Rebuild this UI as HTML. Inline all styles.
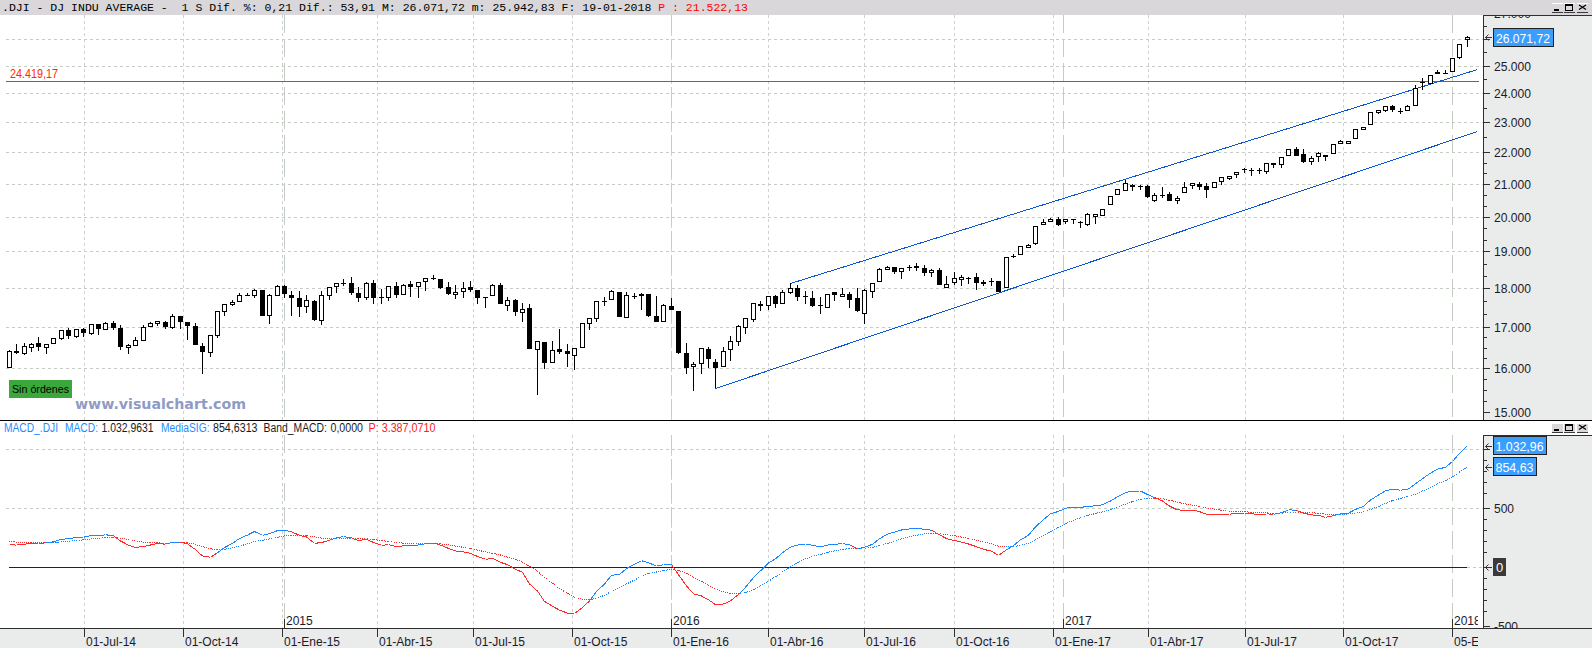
<!DOCTYPE html><html><head><meta charset="utf-8"><title>DJI</title><style>html,body{margin:0;padding:0;background:#fff;overflow:hidden}svg{display:block}text{font-family:"Liberation Sans",Arial,sans-serif;white-space:pre}</style></head><body>
<svg width="1592" height="648" viewBox="0 0 1592 648">
<rect x="0" y="0" width="1592" height="648" fill="#fff"/>
<g shape-rendering="crispEdges">
<rect x="0" y="0" width="1592" height="15" fill="#d9d7d9"/>
<rect x="1483" y="15" width="109" height="405" fill="#eaebeb"/>
<rect x="1483" y="435" width="109" height="193" fill="#eaebeb"/>
<rect x="0" y="628" width="1592" height="20" fill="#eaebeb"/>
</g>
<g shape-rendering="crispEdges" stroke="#c4ccc4" stroke-width="1" fill="none">
<line x1="6" y1="39.5" x2="1483" y2="39.5" stroke-dasharray="3 3"/>
<line x1="6" y1="66.5" x2="1483" y2="66.5" stroke-dasharray="3 3"/>
<line x1="6" y1="93.5" x2="1483" y2="93.5" stroke-dasharray="3 3"/>
<line x1="6" y1="122.5" x2="1483" y2="122.5" stroke-dasharray="3 3"/>
<line x1="6" y1="152.5" x2="1483" y2="152.5" stroke-dasharray="3 3"/>
<line x1="6" y1="184.5" x2="1483" y2="184.5" stroke-dasharray="3 3"/>
<line x1="6" y1="217.5" x2="1483" y2="217.5" stroke-dasharray="3 3"/>
<line x1="6" y1="251.5" x2="1483" y2="251.5" stroke-dasharray="3 3"/>
<line x1="6" y1="288.5" x2="1483" y2="288.5" stroke-dasharray="3 3"/>
<line x1="6" y1="327.5" x2="1483" y2="327.5" stroke-dasharray="3 3"/>
<line x1="6" y1="368.5" x2="1483" y2="368.5" stroke-dasharray="3 3"/>
<line x1="6" y1="449.5" x2="1483" y2="449.5" stroke-dasharray="3 3"/>
<line x1="6" y1="508.5" x2="1483" y2="508.5" stroke-dasharray="3 3"/>
<line x1="1467" y1="567.5" x2="1483" y2="567.5" stroke-dasharray="3 3"/>
<line x1="84.5" y1="15" x2="84.5" y2="420" stroke-dasharray="3 3" stroke="#cdd1d1"/>
<line x1="84.5" y1="435" x2="84.5" y2="628" stroke-dasharray="3 3" stroke="#cdd1d1"/>
<line x1="183.5" y1="15" x2="183.5" y2="420" stroke-dasharray="3 3" stroke="#cdd1d1"/>
<line x1="183.5" y1="435" x2="183.5" y2="628" stroke-dasharray="3 3" stroke="#cdd1d1"/>
<line x1="282.5" y1="15" x2="282.5" y2="420" stroke-dasharray="3 3" stroke="#cdd1d1"/>
<line x1="282.5" y1="435" x2="282.5" y2="628" stroke-dasharray="3 3" stroke="#cdd1d1"/>
<line x1="377.5" y1="15" x2="377.5" y2="420" stroke-dasharray="3 3" stroke="#cdd1d1"/>
<line x1="377.5" y1="435" x2="377.5" y2="628" stroke-dasharray="3 3" stroke="#cdd1d1"/>
<line x1="473.5" y1="15" x2="473.5" y2="420" stroke-dasharray="3 3" stroke="#cdd1d1"/>
<line x1="473.5" y1="435" x2="473.5" y2="628" stroke-dasharray="3 3" stroke="#cdd1d1"/>
<line x1="572.5" y1="15" x2="572.5" y2="420" stroke-dasharray="3 3" stroke="#cdd1d1"/>
<line x1="572.5" y1="435" x2="572.5" y2="628" stroke-dasharray="3 3" stroke="#cdd1d1"/>
<line x1="671.5" y1="15" x2="671.5" y2="420" stroke-dasharray="3 3" stroke="#cdd1d1"/>
<line x1="671.5" y1="435" x2="671.5" y2="628" stroke-dasharray="3 3" stroke="#cdd1d1"/>
<line x1="768.5" y1="15" x2="768.5" y2="420" stroke-dasharray="3 3" stroke="#cdd1d1"/>
<line x1="768.5" y1="435" x2="768.5" y2="628" stroke-dasharray="3 3" stroke="#cdd1d1"/>
<line x1="864.5" y1="15" x2="864.5" y2="420" stroke-dasharray="3 3" stroke="#cdd1d1"/>
<line x1="864.5" y1="435" x2="864.5" y2="628" stroke-dasharray="3 3" stroke="#cdd1d1"/>
<line x1="954.5" y1="15" x2="954.5" y2="420" stroke-dasharray="3 3" stroke="#cdd1d1"/>
<line x1="954.5" y1="435" x2="954.5" y2="628" stroke-dasharray="3 3" stroke="#cdd1d1"/>
<line x1="1053.5" y1="15" x2="1053.5" y2="420" stroke-dasharray="3 3" stroke="#cdd1d1"/>
<line x1="1053.5" y1="435" x2="1053.5" y2="628" stroke-dasharray="3 3" stroke="#cdd1d1"/>
<line x1="1148.5" y1="15" x2="1148.5" y2="420" stroke-dasharray="3 3" stroke="#cdd1d1"/>
<line x1="1148.5" y1="435" x2="1148.5" y2="628" stroke-dasharray="3 3" stroke="#cdd1d1"/>
<line x1="1245.5" y1="15" x2="1245.5" y2="420" stroke-dasharray="3 3" stroke="#cdd1d1"/>
<line x1="1245.5" y1="435" x2="1245.5" y2="628" stroke-dasharray="3 3" stroke="#cdd1d1"/>
<line x1="1343.5" y1="15" x2="1343.5" y2="420" stroke-dasharray="3 3" stroke="#cdd1d1"/>
<line x1="1343.5" y1="435" x2="1343.5" y2="628" stroke-dasharray="3 3" stroke="#cdd1d1"/>
<line x1="284.5" y1="15" x2="284.5" y2="420" stroke-dasharray="18 6"/>
<line x1="284.5" y1="435" x2="284.5" y2="628" stroke-dasharray="18 6"/>
<line x1="671.5" y1="15" x2="671.5" y2="420" stroke-dasharray="18 6"/>
<line x1="671.5" y1="435" x2="671.5" y2="628" stroke-dasharray="18 6"/>
<line x1="1063.5" y1="15" x2="1063.5" y2="420" stroke-dasharray="18 6"/>
<line x1="1063.5" y1="435" x2="1063.5" y2="628" stroke-dasharray="18 6"/>
<line x1="1452.5" y1="15" x2="1452.5" y2="420" stroke-dasharray="18 6"/>
<line x1="1452.5" y1="435" x2="1452.5" y2="628" stroke-dasharray="18 6"/>
</g>
<g shape-rendering="crispEdges">
<rect x="6" y="81" width="1473" height="1" fill="#ff3000"/>
</g>
<text x="10" y="78" font-size="12" fill="#ff2a00" textLength="48" lengthAdjust="spacingAndGlyphs">24.419,17</text>
<g shape-rendering="crispEdges" stroke="#0a55d0" stroke-width="1" fill="none">
<line x1="790.5" y1="283.5" x2="1477.5" y2="69.5"/>
<line x1="715.5" y1="388.5" x2="1477.5" y2="131.5"/>
</g>
<g shape-rendering="crispEdges">
<rect x="9" y="350" width="1" height="18" fill="#000"/>
<rect x="7" y="351" width="5" height="17" fill="#000"/>
<rect x="8" y="352" width="3" height="15" fill="#fff"/>
<rect x="16" y="344" width="1" height="10" fill="#000"/>
<rect x="14" y="351" width="5" height="2" fill="#000"/>
<rect x="24" y="343" width="1" height="12" fill="#000"/>
<rect x="22" y="346" width="5" height="8" fill="#000"/>
<rect x="23" y="347" width="3" height="6" fill="#fff"/>
<rect x="31" y="343" width="1" height="9" fill="#000"/>
<rect x="29" y="344" width="5" height="4" fill="#000"/>
<rect x="30" y="345" width="3" height="2" fill="#fff"/>
<rect x="38" y="337" width="1" height="14" fill="#000"/>
<rect x="36" y="343" width="5" height="4" fill="#000"/>
<rect x="46" y="344" width="1" height="10" fill="#000"/>
<rect x="44" y="344" width="5" height="4" fill="#000"/>
<rect x="45" y="345" width="3" height="2" fill="#fff"/>
<rect x="53" y="338" width="1" height="6" fill="#000"/>
<rect x="51" y="338" width="5" height="6" fill="#000"/>
<rect x="52" y="339" width="3" height="4" fill="#fff"/>
<rect x="61" y="330" width="1" height="10" fill="#000"/>
<rect x="59" y="330" width="5" height="9" fill="#000"/>
<rect x="60" y="331" width="3" height="7" fill="#fff"/>
<rect x="68" y="328" width="1" height="11" fill="#000"/>
<rect x="66" y="330" width="5" height="6" fill="#000"/>
<rect x="76" y="329" width="1" height="9" fill="#000"/>
<rect x="74" y="329" width="5" height="8" fill="#000"/>
<rect x="75" y="330" width="3" height="6" fill="#fff"/>
<rect x="83" y="328" width="1" height="9" fill="#000"/>
<rect x="81" y="329" width="5" height="4" fill="#000"/>
<rect x="91" y="324" width="1" height="11" fill="#000"/>
<rect x="89" y="324" width="5" height="10" fill="#000"/>
<rect x="90" y="325" width="3" height="8" fill="#fff"/>
<rect x="98" y="324" width="1" height="11" fill="#000"/>
<rect x="96" y="324" width="5" height="5" fill="#000"/>
<rect x="105" y="322" width="1" height="8" fill="#000"/>
<rect x="103" y="323" width="5" height="7" fill="#000"/>
<rect x="104" y="324" width="3" height="5" fill="#fff"/>
<rect x="113" y="321" width="1" height="9" fill="#000"/>
<rect x="111" y="323" width="5" height="5" fill="#000"/>
<rect x="120" y="325" width="1" height="25" fill="#000"/>
<rect x="118" y="328" width="5" height="19" fill="#000"/>
<rect x="128" y="344" width="1" height="10" fill="#000"/>
<rect x="128" y="344" width="1" height="10" fill="#000"/>
<rect x="126" y="345" width="5" height="3" fill="#000"/>
<rect x="127" y="346" width="3" height="1" fill="#fff"/>
<rect x="135" y="337" width="1" height="9" fill="#000"/>
<rect x="133" y="340" width="5" height="6" fill="#000"/>
<rect x="134" y="341" width="3" height="4" fill="#fff"/>
<rect x="143" y="325" width="1" height="16" fill="#000"/>
<rect x="141" y="327" width="5" height="14" fill="#000"/>
<rect x="142" y="328" width="3" height="12" fill="#fff"/>
<rect x="150" y="322" width="1" height="5" fill="#000"/>
<rect x="148" y="323" width="5" height="4" fill="#000"/>
<rect x="149" y="324" width="3" height="2" fill="#fff"/>
<rect x="157" y="321" width="1" height="5" fill="#000"/>
<rect x="155" y="321" width="5" height="3" fill="#000"/>
<rect x="156" y="322" width="3" height="1" fill="#fff"/>
<rect x="165" y="321" width="1" height="8" fill="#000"/>
<rect x="163" y="322" width="5" height="5" fill="#000"/>
<rect x="172" y="314" width="1" height="15" fill="#000"/>
<rect x="170" y="316" width="5" height="12" fill="#000"/>
<rect x="171" y="317" width="3" height="10" fill="#fff"/>
<rect x="180" y="316" width="1" height="13" fill="#000"/>
<rect x="178" y="316" width="5" height="6" fill="#000"/>
<rect x="187" y="322" width="1" height="18" fill="#000"/>
<rect x="185" y="322" width="5" height="4" fill="#000"/>
<rect x="195" y="323" width="1" height="22" fill="#000"/>
<rect x="193" y="326" width="5" height="19" fill="#000"/>
<rect x="202" y="343" width="1" height="31" fill="#000"/>
<rect x="200" y="346" width="5" height="6" fill="#000"/>
<rect x="210" y="335" width="1" height="22" fill="#000"/>
<rect x="208" y="335" width="5" height="18" fill="#000"/>
<rect x="209" y="336" width="3" height="16" fill="#fff"/>
<rect x="217" y="311" width="1" height="27" fill="#000"/>
<rect x="215" y="311" width="5" height="25" fill="#000"/>
<rect x="216" y="312" width="3" height="23" fill="#fff"/>
<rect x="224" y="304" width="1" height="12" fill="#000"/>
<rect x="222" y="304" width="5" height="8" fill="#000"/>
<rect x="223" y="305" width="3" height="6" fill="#fff"/>
<rect x="232" y="300" width="1" height="6" fill="#000"/>
<rect x="232" y="300" width="1" height="6" fill="#000"/>
<rect x="230" y="302" width="5" height="3" fill="#000"/>
<rect x="231" y="303" width="3" height="1" fill="#fff"/>
<rect x="239" y="293" width="1" height="9" fill="#000"/>
<rect x="237" y="295" width="5" height="7" fill="#000"/>
<rect x="238" y="296" width="3" height="5" fill="#fff"/>
<rect x="247" y="293" width="1" height="3" fill="#000"/>
<rect x="245" y="295" width="5" height="1" fill="#000"/>
<rect x="254" y="289" width="1" height="9" fill="#000"/>
<rect x="252" y="290" width="5" height="6" fill="#000"/>
<rect x="253" y="291" width="3" height="4" fill="#fff"/>
<rect x="262" y="290" width="1" height="26" fill="#000"/>
<rect x="260" y="290" width="5" height="26" fill="#000"/>
<rect x="269" y="294" width="1" height="30" fill="#000"/>
<rect x="267" y="295" width="5" height="21" fill="#000"/>
<rect x="268" y="296" width="3" height="19" fill="#fff"/>
<rect x="277" y="285" width="1" height="11" fill="#000"/>
<rect x="275" y="286" width="5" height="10" fill="#000"/>
<rect x="276" y="287" width="3" height="8" fill="#fff"/>
<rect x="284" y="285" width="1" height="13" fill="#000"/>
<rect x="282" y="286" width="5" height="8" fill="#000"/>
<rect x="291" y="291" width="1" height="25" fill="#000"/>
<rect x="289" y="295" width="5" height="3" fill="#000"/>
<rect x="299" y="291" width="1" height="26" fill="#000"/>
<rect x="297" y="298" width="5" height="9" fill="#000"/>
<rect x="306" y="295" width="1" height="18" fill="#000"/>
<rect x="304" y="300" width="5" height="7" fill="#000"/>
<rect x="305" y="301" width="3" height="5" fill="#fff"/>
<rect x="314" y="300" width="1" height="21" fill="#000"/>
<rect x="312" y="301" width="5" height="19" fill="#000"/>
<rect x="321" y="291" width="1" height="34" fill="#000"/>
<rect x="319" y="295" width="5" height="26" fill="#000"/>
<rect x="320" y="296" width="3" height="24" fill="#fff"/>
<rect x="329" y="287" width="1" height="13" fill="#000"/>
<rect x="327" y="287" width="5" height="9" fill="#000"/>
<rect x="328" y="288" width="3" height="7" fill="#fff"/>
<rect x="336" y="283" width="1" height="10" fill="#000"/>
<rect x="334" y="283" width="5" height="4" fill="#000"/>
<rect x="335" y="284" width="3" height="2" fill="#fff"/>
<rect x="343" y="279" width="1" height="7" fill="#000"/>
<rect x="341" y="283" width="5" height="1" fill="#000"/>
<rect x="351" y="277" width="1" height="18" fill="#000"/>
<rect x="349" y="283" width="5" height="10" fill="#000"/>
<rect x="358" y="287" width="1" height="15" fill="#000"/>
<rect x="356" y="293" width="5" height="5" fill="#000"/>
<rect x="366" y="282" width="1" height="18" fill="#000"/>
<rect x="364" y="283" width="5" height="15" fill="#000"/>
<rect x="365" y="284" width="3" height="13" fill="#fff"/>
<rect x="373" y="280" width="1" height="24" fill="#000"/>
<rect x="371" y="283" width="5" height="15" fill="#000"/>
<rect x="381" y="289" width="1" height="15" fill="#000"/>
<rect x="379" y="297" width="5" height="1" fill="#000"/>
<rect x="388" y="286" width="1" height="15" fill="#000"/>
<rect x="386" y="286" width="5" height="12" fill="#000"/>
<rect x="387" y="287" width="3" height="10" fill="#fff"/>
<rect x="396" y="282" width="1" height="16" fill="#000"/>
<rect x="394" y="286" width="5" height="9" fill="#000"/>
<rect x="403" y="284" width="1" height="11" fill="#000"/>
<rect x="401" y="285" width="5" height="10" fill="#000"/>
<rect x="402" y="286" width="3" height="8" fill="#fff"/>
<rect x="410" y="281" width="1" height="16" fill="#000"/>
<rect x="408" y="284" width="5" height="3" fill="#000"/>
<rect x="418" y="282" width="1" height="16" fill="#000"/>
<rect x="416" y="282" width="5" height="5" fill="#000"/>
<rect x="417" y="283" width="3" height="3" fill="#fff"/>
<rect x="425" y="278" width="1" height="13" fill="#000"/>
<rect x="423" y="278" width="5" height="4" fill="#000"/>
<rect x="424" y="279" width="3" height="2" fill="#fff"/>
<rect x="433" y="275" width="1" height="5" fill="#000"/>
<rect x="431" y="278" width="5" height="1" fill="#000"/>
<rect x="440" y="279" width="1" height="10" fill="#000"/>
<rect x="438" y="279" width="5" height="9" fill="#000"/>
<rect x="448" y="282" width="1" height="13" fill="#000"/>
<rect x="446" y="287" width="5" height="7" fill="#000"/>
<rect x="455" y="285" width="1" height="14" fill="#000"/>
<rect x="455" y="285" width="1" height="14" fill="#000"/>
<rect x="453" y="292" width="5" height="3" fill="#000"/>
<rect x="454" y="293" width="3" height="1" fill="#fff"/>
<rect x="463" y="282" width="1" height="16" fill="#000"/>
<rect x="461" y="288" width="5" height="4" fill="#000"/>
<rect x="462" y="289" width="3" height="2" fill="#fff"/>
<rect x="470" y="281" width="1" height="11" fill="#000"/>
<rect x="468" y="287" width="5" height="3" fill="#000"/>
<rect x="477" y="290" width="1" height="14" fill="#000"/>
<rect x="475" y="290" width="5" height="8" fill="#000"/>
<rect x="485" y="297" width="1" height="11" fill="#000"/>
<rect x="483" y="297" width="5" height="1" fill="#000"/>
<rect x="492" y="284" width="1" height="12" fill="#000"/>
<rect x="490" y="285" width="5" height="11" fill="#000"/>
<rect x="491" y="286" width="3" height="9" fill="#fff"/>
<rect x="500" y="283" width="1" height="21" fill="#000"/>
<rect x="498" y="285" width="5" height="19" fill="#000"/>
<rect x="507" y="297" width="1" height="14" fill="#000"/>
<rect x="505" y="300" width="5" height="6" fill="#000"/>
<rect x="506" y="301" width="3" height="4" fill="#fff"/>
<rect x="515" y="299" width="1" height="17" fill="#000"/>
<rect x="513" y="300" width="5" height="12" fill="#000"/>
<rect x="522" y="303" width="1" height="19" fill="#000"/>
<rect x="520" y="309" width="5" height="4" fill="#000"/>
<rect x="521" y="310" width="3" height="2" fill="#fff"/>
<rect x="529" y="304" width="1" height="45" fill="#000"/>
<rect x="527" y="308" width="5" height="41" fill="#000"/>
<rect x="537" y="341" width="1" height="54" fill="#000"/>
<rect x="535" y="341" width="5" height="9" fill="#000"/>
<rect x="536" y="342" width="3" height="7" fill="#fff"/>
<rect x="544" y="342" width="1" height="27" fill="#000"/>
<rect x="542" y="342" width="5" height="21" fill="#000"/>
<rect x="552" y="341" width="1" height="22" fill="#000"/>
<rect x="550" y="350" width="5" height="13" fill="#000"/>
<rect x="551" y="351" width="3" height="11" fill="#fff"/>
<rect x="559" y="329" width="1" height="25" fill="#000"/>
<rect x="557" y="349" width="5" height="3" fill="#000"/>
<rect x="567" y="344" width="1" height="23" fill="#000"/>
<rect x="565" y="351" width="5" height="3" fill="#000"/>
<rect x="574" y="348" width="1" height="22" fill="#000"/>
<rect x="572" y="348" width="5" height="8" fill="#000"/>
<rect x="573" y="349" width="3" height="6" fill="#fff"/>
<rect x="582" y="323" width="1" height="25" fill="#000"/>
<rect x="580" y="323" width="5" height="25" fill="#000"/>
<rect x="581" y="324" width="3" height="23" fill="#fff"/>
<rect x="589" y="318" width="1" height="12" fill="#000"/>
<rect x="587" y="318" width="5" height="6" fill="#000"/>
<rect x="588" y="319" width="3" height="4" fill="#fff"/>
<rect x="596" y="301" width="1" height="21" fill="#000"/>
<rect x="594" y="301" width="5" height="18" fill="#000"/>
<rect x="595" y="302" width="3" height="16" fill="#fff"/>
<rect x="604" y="297" width="1" height="9" fill="#000"/>
<rect x="602" y="301" width="5" height="1" fill="#000"/>
<rect x="611" y="290" width="1" height="10" fill="#000"/>
<rect x="609" y="291" width="5" height="9" fill="#000"/>
<rect x="610" y="292" width="3" height="7" fill="#fff"/>
<rect x="619" y="292" width="1" height="25" fill="#000"/>
<rect x="617" y="292" width="5" height="25" fill="#000"/>
<rect x="626" y="292" width="1" height="26" fill="#000"/>
<rect x="624" y="295" width="5" height="23" fill="#000"/>
<rect x="625" y="296" width="3" height="21" fill="#fff"/>
<rect x="634" y="293" width="1" height="6" fill="#000"/>
<rect x="632" y="296" width="5" height="1" fill="#000"/>
<rect x="641" y="293" width="1" height="17" fill="#000"/>
<rect x="639" y="294" width="5" height="2" fill="#000"/>
<rect x="648" y="294" width="1" height="23" fill="#000"/>
<rect x="646" y="294" width="5" height="22" fill="#000"/>
<rect x="656" y="296" width="1" height="26" fill="#000"/>
<rect x="654" y="316" width="5" height="6" fill="#000"/>
<rect x="663" y="304" width="1" height="18" fill="#000"/>
<rect x="661" y="305" width="5" height="17" fill="#000"/>
<rect x="662" y="306" width="3" height="15" fill="#fff"/>
<rect x="671" y="298" width="1" height="12" fill="#000"/>
<rect x="669" y="306" width="5" height="4" fill="#000"/>
<rect x="678" y="311" width="1" height="43" fill="#000"/>
<rect x="676" y="311" width="5" height="42" fill="#000"/>
<rect x="686" y="343" width="1" height="31" fill="#000"/>
<rect x="684" y="353" width="5" height="15" fill="#000"/>
<rect x="693" y="362" width="1" height="29" fill="#000"/>
<rect x="691" y="364" width="5" height="3" fill="#000"/>
<rect x="692" y="365" width="3" height="1" fill="#fff"/>
<rect x="701" y="348" width="1" height="26" fill="#000"/>
<rect x="699" y="348" width="5" height="16" fill="#000"/>
<rect x="700" y="349" width="3" height="14" fill="#fff"/>
<rect x="708" y="347" width="1" height="21" fill="#000"/>
<rect x="706" y="349" width="5" height="10" fill="#000"/>
<rect x="715" y="359" width="1" height="29" fill="#000"/>
<rect x="713" y="362" width="5" height="6" fill="#000"/>
<rect x="723" y="347" width="1" height="20" fill="#000"/>
<rect x="721" y="351" width="5" height="16" fill="#000"/>
<rect x="722" y="352" width="3" height="14" fill="#fff"/>
<rect x="730" y="336" width="1" height="25" fill="#000"/>
<rect x="728" y="341" width="5" height="9" fill="#000"/>
<rect x="729" y="342" width="3" height="7" fill="#fff"/>
<rect x="738" y="325" width="1" height="21" fill="#000"/>
<rect x="736" y="326" width="5" height="16" fill="#000"/>
<rect x="737" y="327" width="3" height="14" fill="#fff"/>
<rect x="745" y="318" width="1" height="16" fill="#000"/>
<rect x="743" y="318" width="5" height="10" fill="#000"/>
<rect x="744" y="319" width="3" height="8" fill="#fff"/>
<rect x="753" y="303" width="1" height="19" fill="#000"/>
<rect x="751" y="303" width="5" height="17" fill="#000"/>
<rect x="752" y="304" width="3" height="15" fill="#fff"/>
<rect x="760" y="301" width="1" height="10" fill="#000"/>
<rect x="758" y="304" width="5" height="2" fill="#000"/>
<rect x="768" y="296" width="1" height="14" fill="#000"/>
<rect x="766" y="296" width="5" height="10" fill="#000"/>
<rect x="767" y="297" width="3" height="8" fill="#fff"/>
<rect x="775" y="295" width="1" height="13" fill="#000"/>
<rect x="773" y="296" width="5" height="8" fill="#000"/>
<rect x="782" y="290" width="1" height="14" fill="#000"/>
<rect x="780" y="292" width="5" height="12" fill="#000"/>
<rect x="781" y="293" width="3" height="10" fill="#fff"/>
<rect x="790" y="283" width="1" height="11" fill="#000"/>
<rect x="788" y="288" width="5" height="5" fill="#000"/>
<rect x="789" y="289" width="3" height="3" fill="#fff"/>
<rect x="797" y="285" width="1" height="16" fill="#000"/>
<rect x="795" y="288" width="5" height="9" fill="#000"/>
<rect x="805" y="291" width="1" height="13" fill="#000"/>
<rect x="803" y="296" width="5" height="1" fill="#000"/>
<rect x="812" y="291" width="1" height="16" fill="#000"/>
<rect x="810" y="298" width="5" height="8" fill="#000"/>
<rect x="820" y="297" width="1" height="17" fill="#000"/>
<rect x="818" y="305" width="5" height="1" fill="#000"/>
<rect x="827" y="294" width="1" height="14" fill="#000"/>
<rect x="825" y="294" width="5" height="14" fill="#000"/>
<rect x="826" y="295" width="3" height="12" fill="#fff"/>
<rect x="834" y="292" width="1" height="9" fill="#000"/>
<rect x="832" y="292" width="5" height="3" fill="#000"/>
<rect x="842" y="288" width="1" height="8" fill="#000"/>
<rect x="842" y="288" width="1" height="9" fill="#000"/>
<rect x="840" y="294" width="5" height="3" fill="#000"/>
<rect x="841" y="295" width="3" height="1" fill="#fff"/>
<rect x="849" y="292" width="1" height="16" fill="#000"/>
<rect x="847" y="294" width="5" height="6" fill="#000"/>
<rect x="857" y="288" width="1" height="24" fill="#000"/>
<rect x="855" y="298" width="5" height="13" fill="#000"/>
<rect x="864" y="289" width="1" height="35" fill="#000"/>
<rect x="862" y="290" width="5" height="24" fill="#000"/>
<rect x="863" y="291" width="3" height="22" fill="#fff"/>
<rect x="872" y="283" width="1" height="15" fill="#000"/>
<rect x="870" y="283" width="5" height="9" fill="#000"/>
<rect x="871" y="284" width="3" height="7" fill="#fff"/>
<rect x="879" y="268" width="1" height="14" fill="#000"/>
<rect x="877" y="269" width="5" height="13" fill="#000"/>
<rect x="878" y="270" width="3" height="11" fill="#fff"/>
<rect x="887" y="266" width="1" height="4" fill="#000"/>
<rect x="885" y="267" width="5" height="3" fill="#000"/>
<rect x="886" y="268" width="3" height="1" fill="#fff"/>
<rect x="894" y="267" width="1" height="7" fill="#000"/>
<rect x="892" y="267" width="5" height="5" fill="#000"/>
<rect x="901" y="268" width="1" height="11" fill="#000"/>
<rect x="899" y="268" width="5" height="4" fill="#000"/>
<rect x="900" y="269" width="3" height="2" fill="#fff"/>
<rect x="909" y="265" width="1" height="6" fill="#000"/>
<rect x="907" y="267" width="5" height="1" fill="#000"/>
<rect x="916" y="263" width="1" height="8" fill="#000"/>
<rect x="914" y="266" width="5" height="2" fill="#000"/>
<rect x="924" y="265" width="1" height="11" fill="#000"/>
<rect x="922" y="268" width="5" height="5" fill="#000"/>
<rect x="931" y="269" width="1" height="8" fill="#000"/>
<rect x="931" y="269" width="1" height="8" fill="#000"/>
<rect x="929" y="270" width="5" height="3" fill="#000"/>
<rect x="930" y="271" width="3" height="1" fill="#fff"/>
<rect x="939" y="268" width="1" height="17" fill="#000"/>
<rect x="937" y="270" width="5" height="15" fill="#000"/>
<rect x="946" y="276" width="1" height="12" fill="#000"/>
<rect x="944" y="284" width="5" height="4" fill="#000"/>
<rect x="945" y="285" width="3" height="2" fill="#fff"/>
<rect x="954" y="272" width="1" height="13" fill="#000"/>
<rect x="952" y="278" width="5" height="5" fill="#000"/>
<rect x="953" y="279" width="3" height="3" fill="#fff"/>
<rect x="961" y="275" width="1" height="11" fill="#000"/>
<rect x="959" y="277" width="5" height="3" fill="#000"/>
<rect x="960" y="278" width="3" height="1" fill="#fff"/>
<rect x="968" y="277" width="1" height="7" fill="#000"/>
<rect x="966" y="278" width="5" height="1" fill="#000"/>
<rect x="976" y="273" width="1" height="17" fill="#000"/>
<rect x="974" y="277" width="5" height="6" fill="#000"/>
<rect x="983" y="280" width="1" height="6" fill="#000"/>
<rect x="981" y="282" width="5" height="2" fill="#000"/>
<rect x="991" y="278" width="1" height="8" fill="#000"/>
<rect x="989" y="281" width="5" height="1" fill="#000"/>
<rect x="998" y="281" width="1" height="11" fill="#000"/>
<rect x="996" y="281" width="5" height="11" fill="#000"/>
<rect x="1006" y="257" width="1" height="31" fill="#000"/>
<rect x="1004" y="257" width="5" height="31" fill="#000"/>
<rect x="1005" y="258" width="3" height="29" fill="#fff"/>
<rect x="1013" y="254" width="1" height="4" fill="#000"/>
<rect x="1011" y="256" width="5" height="1" fill="#000"/>
<rect x="1020" y="246" width="1" height="9" fill="#000"/>
<rect x="1018" y="246" width="5" height="9" fill="#000"/>
<rect x="1019" y="247" width="3" height="7" fill="#fff"/>
<rect x="1028" y="244" width="1" height="4" fill="#000"/>
<rect x="1026" y="245" width="5" height="3" fill="#000"/>
<rect x="1027" y="246" width="3" height="1" fill="#fff"/>
<rect x="1035" y="226" width="1" height="19" fill="#000"/>
<rect x="1033" y="226" width="5" height="18" fill="#000"/>
<rect x="1034" y="227" width="3" height="16" fill="#fff"/>
<rect x="1043" y="219" width="1" height="6" fill="#000"/>
<rect x="1041" y="222" width="5" height="3" fill="#000"/>
<rect x="1042" y="223" width="3" height="1" fill="#fff"/>
<rect x="1050" y="218" width="1" height="4" fill="#000"/>
<rect x="1048" y="219" width="5" height="3" fill="#000"/>
<rect x="1049" y="220" width="3" height="1" fill="#fff"/>
<rect x="1058" y="217" width="1" height="9" fill="#000"/>
<rect x="1056" y="219" width="5" height="6" fill="#000"/>
<rect x="1065" y="219" width="1" height="5" fill="#000"/>
<rect x="1065" y="219" width="1" height="5" fill="#000"/>
<rect x="1063" y="219" width="5" height="3" fill="#000"/>
<rect x="1064" y="220" width="3" height="1" fill="#fff"/>
<rect x="1073" y="219" width="1" height="5" fill="#000"/>
<rect x="1071" y="219" width="5" height="1" fill="#000"/>
<rect x="1080" y="221" width="1" height="7" fill="#000"/>
<rect x="1078" y="222" width="5" height="1" fill="#000"/>
<rect x="1087" y="213" width="1" height="13" fill="#000"/>
<rect x="1085" y="214" width="5" height="11" fill="#000"/>
<rect x="1086" y="215" width="3" height="9" fill="#fff"/>
<rect x="1095" y="214" width="1" height="10" fill="#000"/>
<rect x="1095" y="214" width="1" height="10" fill="#000"/>
<rect x="1093" y="214" width="5" height="3" fill="#000"/>
<rect x="1094" y="215" width="3" height="1" fill="#fff"/>
<rect x="1102" y="209" width="1" height="7" fill="#000"/>
<rect x="1100" y="209" width="5" height="7" fill="#000"/>
<rect x="1101" y="210" width="3" height="5" fill="#fff"/>
<rect x="1110" y="196" width="1" height="9" fill="#000"/>
<rect x="1108" y="196" width="5" height="9" fill="#000"/>
<rect x="1109" y="197" width="3" height="7" fill="#fff"/>
<rect x="1117" y="189" width="1" height="6" fill="#000"/>
<rect x="1115" y="189" width="5" height="6" fill="#000"/>
<rect x="1116" y="190" width="3" height="4" fill="#fff"/>
<rect x="1125" y="180" width="1" height="11" fill="#000"/>
<rect x="1123" y="183" width="5" height="8" fill="#000"/>
<rect x="1124" y="184" width="3" height="6" fill="#fff"/>
<rect x="1132" y="184" width="1" height="7" fill="#000"/>
<rect x="1130" y="185" width="5" height="2" fill="#000"/>
<rect x="1140" y="185" width="1" height="5" fill="#000"/>
<rect x="1138" y="186" width="5" height="1" fill="#000"/>
<rect x="1147" y="185" width="1" height="13" fill="#000"/>
<rect x="1145" y="186" width="5" height="11" fill="#000"/>
<rect x="1154" y="193" width="1" height="9" fill="#000"/>
<rect x="1152" y="195" width="5" height="6" fill="#000"/>
<rect x="1153" y="196" width="3" height="4" fill="#fff"/>
<rect x="1162" y="187" width="1" height="11" fill="#000"/>
<rect x="1160" y="195" width="5" height="1" fill="#000"/>
<rect x="1169" y="192" width="1" height="9" fill="#000"/>
<rect x="1167" y="194" width="5" height="7" fill="#000"/>
<rect x="1177" y="196" width="1" height="8" fill="#000"/>
<rect x="1177" y="196" width="1" height="8" fill="#000"/>
<rect x="1175" y="198" width="5" height="3" fill="#000"/>
<rect x="1176" y="199" width="3" height="1" fill="#fff"/>
<rect x="1184" y="182" width="1" height="11" fill="#000"/>
<rect x="1182" y="187" width="5" height="6" fill="#000"/>
<rect x="1183" y="188" width="3" height="4" fill="#fff"/>
<rect x="1192" y="183" width="1" height="6" fill="#000"/>
<rect x="1190" y="183" width="5" height="3" fill="#000"/>
<rect x="1191" y="184" width="3" height="1" fill="#fff"/>
<rect x="1199" y="182" width="1" height="8" fill="#000"/>
<rect x="1197" y="184" width="5" height="3" fill="#000"/>
<rect x="1206" y="183" width="1" height="15" fill="#000"/>
<rect x="1204" y="186" width="5" height="4" fill="#000"/>
<rect x="1214" y="182" width="1" height="6" fill="#000"/>
<rect x="1212" y="182" width="5" height="6" fill="#000"/>
<rect x="1213" y="183" width="3" height="4" fill="#fff"/>
<rect x="1221" y="177" width="1" height="8" fill="#000"/>
<rect x="1219" y="177" width="5" height="5" fill="#000"/>
<rect x="1220" y="178" width="3" height="3" fill="#fff"/>
<rect x="1229" y="176" width="1" height="4" fill="#000"/>
<rect x="1229" y="176" width="1" height="4" fill="#000"/>
<rect x="1227" y="176" width="5" height="3" fill="#000"/>
<rect x="1228" y="177" width="3" height="1" fill="#fff"/>
<rect x="1236" y="172" width="1" height="6" fill="#000"/>
<rect x="1234" y="172" width="5" height="3" fill="#000"/>
<rect x="1235" y="173" width="3" height="1" fill="#fff"/>
<rect x="1244" y="168" width="1" height="5" fill="#000"/>
<rect x="1242" y="169" width="5" height="1" fill="#000"/>
<rect x="1251" y="168" width="1" height="8" fill="#000"/>
<rect x="1249" y="170" width="5" height="1" fill="#000"/>
<rect x="1259" y="168" width="1" height="6" fill="#000"/>
<rect x="1257" y="170" width="5" height="1" fill="#000"/>
<rect x="1266" y="163" width="1" height="11" fill="#000"/>
<rect x="1264" y="163" width="5" height="9" fill="#000"/>
<rect x="1265" y="164" width="3" height="7" fill="#fff"/>
<rect x="1273" y="163" width="1" height="5" fill="#000"/>
<rect x="1271" y="163" width="5" height="2" fill="#000"/>
<rect x="1281" y="157" width="1" height="11" fill="#000"/>
<rect x="1279" y="157" width="5" height="8" fill="#000"/>
<rect x="1280" y="158" width="3" height="6" fill="#fff"/>
<rect x="1288" y="149" width="1" height="7" fill="#000"/>
<rect x="1286" y="149" width="5" height="7" fill="#000"/>
<rect x="1287" y="150" width="3" height="5" fill="#fff"/>
<rect x="1296" y="147" width="1" height="9" fill="#000"/>
<rect x="1294" y="149" width="5" height="7" fill="#000"/>
<rect x="1303" y="149" width="1" height="14" fill="#000"/>
<rect x="1301" y="154" width="5" height="8" fill="#000"/>
<rect x="1311" y="156" width="1" height="9" fill="#000"/>
<rect x="1309" y="158" width="5" height="4" fill="#000"/>
<rect x="1310" y="159" width="3" height="2" fill="#fff"/>
<rect x="1318" y="152" width="1" height="10" fill="#000"/>
<rect x="1316" y="153" width="5" height="4" fill="#000"/>
<rect x="1317" y="154" width="3" height="2" fill="#fff"/>
<rect x="1325" y="155" width="1" height="6" fill="#000"/>
<rect x="1323" y="155" width="5" height="2" fill="#000"/>
<rect x="1333" y="144" width="1" height="10" fill="#000"/>
<rect x="1331" y="144" width="5" height="10" fill="#000"/>
<rect x="1332" y="145" width="3" height="8" fill="#fff"/>
<rect x="1340" y="140" width="1" height="3" fill="#000"/>
<rect x="1340" y="140" width="1" height="4" fill="#000"/>
<rect x="1338" y="141" width="5" height="3" fill="#000"/>
<rect x="1339" y="142" width="3" height="1" fill="#fff"/>
<rect x="1348" y="141" width="1" height="3" fill="#000"/>
<rect x="1348" y="141" width="1" height="3" fill="#000"/>
<rect x="1346" y="141" width="5" height="3" fill="#000"/>
<rect x="1347" y="142" width="3" height="1" fill="#fff"/>
<rect x="1355" y="129" width="1" height="10" fill="#000"/>
<rect x="1353" y="129" width="5" height="10" fill="#000"/>
<rect x="1354" y="130" width="3" height="8" fill="#fff"/>
<rect x="1363" y="127" width="1" height="2" fill="#000"/>
<rect x="1363" y="127" width="1" height="3" fill="#000"/>
<rect x="1361" y="127" width="5" height="3" fill="#000"/>
<rect x="1362" y="128" width="3" height="1" fill="#fff"/>
<rect x="1370" y="112" width="1" height="13" fill="#000"/>
<rect x="1368" y="112" width="5" height="13" fill="#000"/>
<rect x="1369" y="113" width="3" height="11" fill="#fff"/>
<rect x="1378" y="110" width="1" height="4" fill="#000"/>
<rect x="1378" y="110" width="1" height="4" fill="#000"/>
<rect x="1376" y="110" width="5" height="3" fill="#000"/>
<rect x="1377" y="111" width="3" height="1" fill="#fff"/>
<rect x="1385" y="106" width="1" height="6" fill="#000"/>
<rect x="1383" y="106" width="5" height="5" fill="#000"/>
<rect x="1384" y="107" width="3" height="3" fill="#fff"/>
<rect x="1392" y="105" width="1" height="7" fill="#000"/>
<rect x="1390" y="106" width="5" height="4" fill="#000"/>
<rect x="1400" y="108" width="1" height="6" fill="#000"/>
<rect x="1398" y="111" width="5" height="1" fill="#000"/>
<rect x="1407" y="105" width="1" height="6" fill="#000"/>
<rect x="1405" y="106" width="5" height="5" fill="#000"/>
<rect x="1406" y="107" width="3" height="3" fill="#fff"/>
<rect x="1415" y="85" width="1" height="21" fill="#000"/>
<rect x="1413" y="88" width="5" height="18" fill="#000"/>
<rect x="1414" y="89" width="3" height="16" fill="#fff"/>
<rect x="1422" y="78" width="1" height="12" fill="#000"/>
<rect x="1420" y="82" width="5" height="1" fill="#000"/>
<rect x="1430" y="75" width="1" height="9" fill="#000"/>
<rect x="1428" y="75" width="5" height="9" fill="#000"/>
<rect x="1429" y="76" width="3" height="7" fill="#fff"/>
<rect x="1437" y="70" width="1" height="4" fill="#000"/>
<rect x="1435" y="72" width="5" height="2" fill="#000"/>
<rect x="1445" y="70" width="1" height="4" fill="#000"/>
<rect x="1443" y="73" width="5" height="1" fill="#000"/>
<rect x="1452" y="58" width="1" height="14" fill="#000"/>
<rect x="1450" y="58" width="5" height="14" fill="#000"/>
<rect x="1451" y="59" width="3" height="12" fill="#fff"/>
<rect x="1459" y="44" width="1" height="15" fill="#000"/>
<rect x="1457" y="44" width="5" height="14" fill="#000"/>
<rect x="1458" y="45" width="3" height="12" fill="#fff"/>
<rect x="1467" y="36" width="1" height="11" fill="#000"/>
<rect x="1465" y="37" width="5" height="3" fill="#000"/>
<rect x="1466" y="38" width="3" height="1" fill="#fff"/>
</g>
<rect x="9" y="380" width="63" height="18" fill="#3aa83a" shape-rendering="crispEdges"/>
<text x="12" y="393" font-size="11" fill="#000" textLength="57" lengthAdjust="spacingAndGlyphs">Sin órdenes</text>
<rect x="74" y="396" width="174" height="15" fill="#fff"/>
<text x="75" y="409" font-size="14" font-weight="bold" fill="#8e9bc6" style="font-family:'DejaVu Sans',sans-serif" textLength="171" lengthAdjust="spacingAndGlyphs">www.visualchart.com</text>
<text x="2" y="11" font-size="11.5" fill="#000" style="font-family:'Liberation Mono',monospace" textLength="746" lengthAdjust="spacing">.DJI - DJ INDU AVERAGE -  1 S Dif. %: 0,21 Dif.: 53,91 M: 26.071,72 m: 25.942,83 F: 19-01-2018 <tspan fill="#ff0000">P : 21.522,13</tspan></text>
<g shape-rendering="crispEdges" fill="#303030">
<rect x="1483" y="15" width="109" height="1"/>
<rect x="1483" y="15" width="1" height="405"/>
<rect x="1483" y="26" width="4" height="1"/>
<rect x="1483" y="39" width="7" height="1"/>
<rect x="1483" y="52" width="4" height="1"/>
<rect x="1483" y="66" width="7" height="1"/>
<rect x="1483" y="79" width="4" height="1"/>
<rect x="1483" y="93" width="7" height="1"/>
<rect x="1483" y="108" width="4" height="1"/>
<rect x="1483" y="122" width="7" height="1"/>
<rect x="1483" y="137" width="4" height="1"/>
<rect x="1483" y="152" width="7" height="1"/>
<rect x="1483" y="163" width="4" height="1"/>
<rect x="1483" y="173" width="4" height="1"/>
<rect x="1483" y="184" width="7" height="1"/>
<rect x="1483" y="195" width="4" height="1"/>
<rect x="1483" y="206" width="4" height="1"/>
<rect x="1483" y="217" width="7" height="1"/>
<rect x="1483" y="228" width="4" height="1"/>
<rect x="1483" y="240" width="4" height="1"/>
<rect x="1483" y="251" width="7" height="1"/>
<rect x="1483" y="264" width="4" height="1"/>
<rect x="1483" y="276" width="4" height="1"/>
<rect x="1483" y="288" width="7" height="1"/>
<rect x="1483" y="301" width="4" height="1"/>
<rect x="1483" y="314" width="4" height="1"/>
<rect x="1483" y="327" width="7" height="1"/>
<rect x="1483" y="337" width="4" height="1"/>
<rect x="1483" y="348" width="4" height="1"/>
<rect x="1483" y="358" width="4" height="1"/>
<rect x="1483" y="368" width="7" height="1"/>
<rect x="1483" y="379" width="4" height="1"/>
<rect x="1483" y="390" width="4" height="1"/>
<rect x="1483" y="401" width="4" height="1"/>
<rect x="1483" y="412" width="7" height="1"/>
</g>
<svg x="1483" y="16" width="109" height="404" overflow="hidden">
<text x="11" y="2.0" font-size="12" fill="#1a1a2a" textLength="37" lengthAdjust="spacingAndGlyphs">27.000</text>
<text x="11" y="28.0" font-size="12" fill="#1a1a2a" textLength="37" lengthAdjust="spacingAndGlyphs">26.000</text>
<text x="11" y="55.0" font-size="12" fill="#1a1a2a" textLength="37" lengthAdjust="spacingAndGlyphs">25.000</text>
<text x="11" y="82.0" font-size="12" fill="#1a1a2a" textLength="37" lengthAdjust="spacingAndGlyphs">24.000</text>
<text x="11" y="111.0" font-size="12" fill="#1a1a2a" textLength="37" lengthAdjust="spacingAndGlyphs">23.000</text>
<text x="11" y="141.0" font-size="12" fill="#1a1a2a" textLength="37" lengthAdjust="spacingAndGlyphs">22.000</text>
<text x="11" y="173.0" font-size="12" fill="#1a1a2a" textLength="37" lengthAdjust="spacingAndGlyphs">21.000</text>
<text x="11" y="206.0" font-size="12" fill="#1a1a2a" textLength="37" lengthAdjust="spacingAndGlyphs">20.000</text>
<text x="11" y="240.0" font-size="12" fill="#1a1a2a" textLength="37" lengthAdjust="spacingAndGlyphs">19.000</text>
<text x="11" y="277.0" font-size="12" fill="#1a1a2a" textLength="37" lengthAdjust="spacingAndGlyphs">18.000</text>
<text x="11" y="316.0" font-size="12" fill="#1a1a2a" textLength="37" lengthAdjust="spacingAndGlyphs">17.000</text>
<text x="11" y="357.0" font-size="12" fill="#1a1a2a" textLength="37" lengthAdjust="spacingAndGlyphs">16.000</text>
<text x="11" y="401.0" font-size="12" fill="#1a1a2a" textLength="37" lengthAdjust="spacingAndGlyphs">15.000</text>
</svg>
<rect x="1493.5" y="28.5" width="60" height="18" fill="#3a9eff" stroke="#222" stroke-width="1" shape-rendering="crispEdges"/>
<text x="1496" y="43" font-size="13" fill="#fff" textLength="54" lengthAdjust="spacingAndGlyphs">26.071,72</text>
<path d="M1485.5 37.5 H1492 M1485.5 37.5 L1488.5 34.5 M1485.5 37.5 L1488.5 40.5" stroke="#333" stroke-width="1" fill="none"/>
<rect x="0" y="420" width="1592" height="1" fill="#000" shape-rendering="crispEdges"/>
<text x="4" y="431.7" font-size="12" fill="#1e8cff" textLength="54" lengthAdjust="spacingAndGlyphs">MACD_.DJI</text>
<text x="65" y="431.7" font-size="12" fill="#1e8cff" textLength="33" lengthAdjust="spacingAndGlyphs">MACD:</text>
<text x="101.5" y="431.7" font-size="12" fill="#1a1a1a" textLength="52" lengthAdjust="spacingAndGlyphs">1.032,9631</text>
<text x="161" y="431.7" font-size="12" fill="#1e8cff" textLength="48.5" lengthAdjust="spacingAndGlyphs">MediaSIG:</text>
<text x="213" y="431.7" font-size="12" fill="#1a1a1a" textLength="44.5" lengthAdjust="spacingAndGlyphs">854,6313</text>
<text x="263.5" y="431.7" font-size="12" fill="#1a1a1a" textLength="63.5" lengthAdjust="spacingAndGlyphs">Band_MACD:</text>
<text x="330.5" y="431.7" font-size="12" fill="#1a1a1a" textLength="32.5" lengthAdjust="spacingAndGlyphs">0,0000</text>
<text x="368.5" y="431.7" font-size="12" fill="#ff2020" textLength="67" lengthAdjust="spacingAndGlyphs">P: 3.387,0710</text>
<rect x="9" y="567" width="1458" height="1" fill="#222" shape-rendering="crispEdges"/>
<g fill="none" stroke-width="1" shape-rendering="crispEdges">
<line x1="9.5" y1="544.7" x2="16.5" y2="545.1" stroke="#ff2a2a"/>
<line x1="9.5" y1="541.3" x2="16.5" y2="542.1" stroke="#ff2a2a" stroke-dasharray="1 1"/>
<line x1="16.5" y1="545.1" x2="24.5" y2="544.2" stroke="#ff2a2a"/>
<line x1="16.5" y1="542.1" x2="24.5" y2="542.5" stroke="#ff2a2a" stroke-dasharray="1 1"/>
<line x1="24.5" y1="544.2" x2="31.5" y2="543.2" stroke="#ff2a2a"/>
<line x1="24.5" y1="542.5" x2="31.5" y2="542.7" stroke="#ff2a2a" stroke-dasharray="1 1"/>
<line x1="31.5" y1="543.2" x2="38.5" y2="543.3" stroke="#ff2a2a"/>
<line x1="31.5" y1="542.7" x2="38.5" y2="542.8" stroke="#ff2a2a" stroke-dasharray="1 1"/>
<line x1="38.5" y1="543.3" x2="46.5" y2="542.9" stroke="#ff2a2a"/>
<line x1="38.5" y1="542.8" x2="46.5" y2="542.8" stroke="#ff2a2a" stroke-dasharray="1 1"/>
<line x1="46.5" y1="542.9" x2="53.5" y2="541.7" stroke="#1a86ff"/>
<line x1="46.5" y1="542.8" x2="53.5" y2="542.6" stroke="#1a86ff" stroke-dasharray="1 1"/>
<line x1="53.5" y1="541.7" x2="61.5" y2="539.2" stroke="#1a86ff"/>
<line x1="53.5" y1="542.6" x2="61.5" y2="541.9" stroke="#1a86ff" stroke-dasharray="1 1"/>
<line x1="61.5" y1="539.2" x2="68.5" y2="538.8" stroke="#1a86ff"/>
<line x1="61.5" y1="541.9" x2="68.5" y2="541.3" stroke="#1a86ff" stroke-dasharray="1 1"/>
<line x1="68.5" y1="538.8" x2="76.5" y2="537.3" stroke="#1a86ff"/>
<line x1="68.5" y1="541.3" x2="76.5" y2="540.5" stroke="#1a86ff" stroke-dasharray="1 1"/>
<line x1="76.5" y1="537.3" x2="83.5" y2="537.2" stroke="#1a86ff"/>
<line x1="76.5" y1="540.5" x2="83.5" y2="539.8" stroke="#1a86ff" stroke-dasharray="1 1"/>
<line x1="83.5" y1="537.2" x2="91.5" y2="535.6" stroke="#1a86ff"/>
<line x1="83.5" y1="539.8" x2="91.5" y2="539.0" stroke="#1a86ff" stroke-dasharray="1 1"/>
<line x1="91.5" y1="535.6" x2="98.5" y2="535.7" stroke="#1a86ff"/>
<line x1="91.5" y1="539.0" x2="98.5" y2="538.3" stroke="#1a86ff" stroke-dasharray="1 1"/>
<line x1="98.5" y1="535.7" x2="105.5" y2="534.8" stroke="#1a86ff"/>
<line x1="98.5" y1="538.3" x2="105.5" y2="537.6" stroke="#1a86ff" stroke-dasharray="1 1"/>
<line x1="105.5" y1="534.8" x2="113.5" y2="535.6" stroke="#1a86ff"/>
<line x1="105.5" y1="537.6" x2="113.5" y2="537.2" stroke="#1a86ff" stroke-dasharray="1 1"/>
<line x1="113.5" y1="535.6" x2="120.5" y2="541.0" stroke="#ff2a2a"/>
<line x1="113.5" y1="537.2" x2="120.5" y2="538.0" stroke="#ff2a2a" stroke-dasharray="1 1"/>
<line x1="120.5" y1="541.0" x2="128.5" y2="545.1" stroke="#ff2a2a"/>
<line x1="120.5" y1="538.0" x2="128.5" y2="539.4" stroke="#ff2a2a" stroke-dasharray="1 1"/>
<line x1="128.5" y1="545.1" x2="135.5" y2="547.5" stroke="#ff2a2a"/>
<line x1="128.5" y1="539.4" x2="135.5" y2="541.0" stroke="#ff2a2a" stroke-dasharray="1 1"/>
<line x1="135.5" y1="547.5" x2="143.5" y2="546.5" stroke="#ff2a2a"/>
<line x1="135.5" y1="541.0" x2="143.5" y2="542.1" stroke="#ff2a2a" stroke-dasharray="1 1"/>
<line x1="143.5" y1="546.5" x2="150.5" y2="545.0" stroke="#ff2a2a"/>
<line x1="143.5" y1="542.1" x2="150.5" y2="542.7" stroke="#ff2a2a" stroke-dasharray="1 1"/>
<line x1="150.5" y1="545.0" x2="157.5" y2="543.6" stroke="#ff2a2a"/>
<line x1="150.5" y1="542.7" x2="157.5" y2="542.9" stroke="#ff2a2a" stroke-dasharray="1 1"/>
<line x1="157.5" y1="543.6" x2="165.5" y2="544.2" stroke="#ff2a2a"/>
<line x1="157.5" y1="542.9" x2="165.5" y2="543.1" stroke="#ff2a2a" stroke-dasharray="1 1"/>
<line x1="165.5" y1="544.2" x2="172.5" y2="542.3" stroke="#1a86ff"/>
<line x1="165.5" y1="543.1" x2="172.5" y2="543.0" stroke="#1a86ff" stroke-dasharray="1 1"/>
<line x1="172.5" y1="542.3" x2="180.5" y2="542.4" stroke="#1a86ff"/>
<line x1="172.5" y1="543.0" x2="180.5" y2="542.8" stroke="#1a86ff" stroke-dasharray="1 1"/>
<line x1="180.5" y1="542.4" x2="187.5" y2="543.8" stroke="#ff2a2a"/>
<line x1="180.5" y1="542.8" x2="187.5" y2="543.0" stroke="#ff2a2a" stroke-dasharray="1 1"/>
<line x1="187.5" y1="543.8" x2="195.5" y2="549.6" stroke="#ff2a2a"/>
<line x1="187.5" y1="543.0" x2="195.5" y2="544.3" stroke="#ff2a2a" stroke-dasharray="1 1"/>
<line x1="195.5" y1="549.6" x2="202.5" y2="556.0" stroke="#ff2a2a"/>
<line x1="195.5" y1="544.3" x2="202.5" y2="546.7" stroke="#ff2a2a" stroke-dasharray="1 1"/>
<line x1="202.5" y1="556.0" x2="210.5" y2="557.3" stroke="#ff2a2a"/>
<line x1="202.5" y1="546.7" x2="210.5" y2="548.8" stroke="#ff2a2a" stroke-dasharray="1 1"/>
<line x1="210.5" y1="557.3" x2="217.5" y2="552.7" stroke="#ff2a2a"/>
<line x1="210.5" y1="548.8" x2="217.5" y2="549.6" stroke="#ff2a2a" stroke-dasharray="1 1"/>
<line x1="217.5" y1="552.7" x2="224.5" y2="547.6" stroke="#1a86ff"/>
<line x1="217.5" y1="549.6" x2="224.5" y2="549.2" stroke="#1a86ff" stroke-dasharray="1 1"/>
<line x1="224.5" y1="547.6" x2="232.5" y2="543.3" stroke="#1a86ff"/>
<line x1="224.5" y1="549.2" x2="232.5" y2="548.0" stroke="#1a86ff" stroke-dasharray="1 1"/>
<line x1="232.5" y1="543.3" x2="239.5" y2="538.5" stroke="#1a86ff"/>
<line x1="232.5" y1="548.0" x2="239.5" y2="546.1" stroke="#1a86ff" stroke-dasharray="1 1"/>
<line x1="239.5" y1="538.5" x2="247.5" y2="535.1" stroke="#1a86ff"/>
<line x1="239.5" y1="546.1" x2="247.5" y2="543.9" stroke="#1a86ff" stroke-dasharray="1 1"/>
<line x1="247.5" y1="535.1" x2="254.5" y2="531.5" stroke="#1a86ff"/>
<line x1="247.5" y1="543.9" x2="254.5" y2="541.4" stroke="#1a86ff" stroke-dasharray="1 1"/>
<line x1="254.5" y1="531.5" x2="262.5" y2="535.3" stroke="#1a86ff"/>
<line x1="254.5" y1="541.4" x2="262.5" y2="540.2" stroke="#1a86ff" stroke-dasharray="1 1"/>
<line x1="262.5" y1="535.3" x2="269.5" y2="533.7" stroke="#1a86ff"/>
<line x1="262.5" y1="540.2" x2="269.5" y2="538.9" stroke="#1a86ff" stroke-dasharray="1 1"/>
<line x1="269.5" y1="533.7" x2="277.5" y2="530.6" stroke="#1a86ff"/>
<line x1="269.5" y1="538.9" x2="277.5" y2="537.2" stroke="#1a86ff" stroke-dasharray="1 1"/>
<line x1="277.5" y1="530.6" x2="284.5" y2="530.4" stroke="#1a86ff"/>
<line x1="277.5" y1="537.2" x2="284.5" y2="535.9" stroke="#1a86ff" stroke-dasharray="1 1"/>
<line x1="284.5" y1="530.4" x2="291.5" y2="531.7" stroke="#1a86ff"/>
<line x1="284.5" y1="535.9" x2="291.5" y2="535.0" stroke="#1a86ff" stroke-dasharray="1 1"/>
<line x1="291.5" y1="531.7" x2="299.5" y2="535.3" stroke="#ff2a2a"/>
<line x1="291.5" y1="535.0" x2="299.5" y2="535.1" stroke="#ff2a2a" stroke-dasharray="1 1"/>
<line x1="299.5" y1="535.3" x2="306.5" y2="537.0" stroke="#ff2a2a"/>
<line x1="299.5" y1="535.1" x2="306.5" y2="535.5" stroke="#ff2a2a" stroke-dasharray="1 1"/>
<line x1="306.5" y1="537.0" x2="314.5" y2="543.3" stroke="#ff2a2a"/>
<line x1="306.5" y1="535.5" x2="314.5" y2="537.0" stroke="#ff2a2a" stroke-dasharray="1 1"/>
<line x1="314.5" y1="543.3" x2="321.5" y2="542.6" stroke="#ff2a2a"/>
<line x1="314.5" y1="537.0" x2="321.5" y2="538.1" stroke="#ff2a2a" stroke-dasharray="1 1"/>
<line x1="321.5" y1="542.6" x2="329.5" y2="540.3" stroke="#ff2a2a"/>
<line x1="321.5" y1="538.1" x2="329.5" y2="538.6" stroke="#ff2a2a" stroke-dasharray="1 1"/>
<line x1="329.5" y1="540.3" x2="336.5" y2="537.9" stroke="#1a86ff"/>
<line x1="329.5" y1="538.6" x2="336.5" y2="538.4" stroke="#1a86ff" stroke-dasharray="1 1"/>
<line x1="336.5" y1="537.9" x2="343.5" y2="536.6" stroke="#1a86ff"/>
<line x1="336.5" y1="538.4" x2="343.5" y2="538.1" stroke="#1a86ff" stroke-dasharray="1 1"/>
<line x1="343.5" y1="536.6" x2="351.5" y2="537.9" stroke="#1a86ff"/>
<line x1="343.5" y1="538.1" x2="351.5" y2="538.0" stroke="#1a86ff" stroke-dasharray="1 1"/>
<line x1="351.5" y1="537.9" x2="358.5" y2="540.6" stroke="#ff2a2a"/>
<line x1="351.5" y1="538.0" x2="358.5" y2="538.5" stroke="#ff2a2a" stroke-dasharray="1 1"/>
<line x1="358.5" y1="540.6" x2="366.5" y2="539.3" stroke="#ff2a2a"/>
<line x1="358.5" y1="538.5" x2="366.5" y2="538.7" stroke="#ff2a2a" stroke-dasharray="1 1"/>
<line x1="366.5" y1="539.3" x2="373.5" y2="542.5" stroke="#ff2a2a"/>
<line x1="366.5" y1="538.7" x2="373.5" y2="539.5" stroke="#ff2a2a" stroke-dasharray="1 1"/>
<line x1="373.5" y1="542.5" x2="381.5" y2="545.3" stroke="#ff2a2a"/>
<line x1="373.5" y1="539.5" x2="381.5" y2="540.6" stroke="#ff2a2a" stroke-dasharray="1 1"/>
<line x1="381.5" y1="545.3" x2="388.5" y2="544.7" stroke="#ff2a2a"/>
<line x1="381.5" y1="540.6" x2="388.5" y2="541.4" stroke="#ff2a2a" stroke-dasharray="1 1"/>
<line x1="388.5" y1="544.7" x2="396.5" y2="546.6" stroke="#ff2a2a"/>
<line x1="388.5" y1="541.4" x2="396.5" y2="542.5" stroke="#ff2a2a" stroke-dasharray="1 1"/>
<line x1="396.5" y1="546.6" x2="403.5" y2="545.9" stroke="#ff2a2a"/>
<line x1="396.5" y1="542.5" x2="403.5" y2="543.1" stroke="#ff2a2a" stroke-dasharray="1 1"/>
<line x1="403.5" y1="545.9" x2="410.5" y2="546.0" stroke="#ff2a2a"/>
<line x1="403.5" y1="543.1" x2="410.5" y2="543.7" stroke="#ff2a2a" stroke-dasharray="1 1"/>
<line x1="410.5" y1="546.0" x2="418.5" y2="545.0" stroke="#ff2a2a"/>
<line x1="410.5" y1="543.7" x2="418.5" y2="544.0" stroke="#ff2a2a" stroke-dasharray="1 1"/>
<line x1="418.5" y1="545.0" x2="425.5" y2="543.7" stroke="#1a86ff"/>
<line x1="418.5" y1="544.0" x2="425.5" y2="543.9" stroke="#1a86ff" stroke-dasharray="1 1"/>
<line x1="425.5" y1="543.7" x2="433.5" y2="543.1" stroke="#1a86ff"/>
<line x1="425.5" y1="543.9" x2="433.5" y2="543.8" stroke="#1a86ff" stroke-dasharray="1 1"/>
<line x1="433.5" y1="543.1" x2="440.5" y2="545.1" stroke="#ff2a2a"/>
<line x1="433.5" y1="543.8" x2="440.5" y2="544.0" stroke="#ff2a2a" stroke-dasharray="1 1"/>
<line x1="440.5" y1="545.1" x2="448.5" y2="548.4" stroke="#ff2a2a"/>
<line x1="440.5" y1="544.0" x2="448.5" y2="544.9" stroke="#ff2a2a" stroke-dasharray="1 1"/>
<line x1="448.5" y1="548.4" x2="455.5" y2="550.9" stroke="#ff2a2a"/>
<line x1="448.5" y1="544.9" x2="455.5" y2="546.1" stroke="#ff2a2a" stroke-dasharray="1 1"/>
<line x1="455.5" y1="550.9" x2="463.5" y2="551.9" stroke="#ff2a2a"/>
<line x1="455.5" y1="546.1" x2="463.5" y2="547.3" stroke="#ff2a2a" stroke-dasharray="1 1"/>
<line x1="463.5" y1="551.9" x2="470.5" y2="553.3" stroke="#ff2a2a"/>
<line x1="463.5" y1="547.3" x2="470.5" y2="548.5" stroke="#ff2a2a" stroke-dasharray="1 1"/>
<line x1="470.5" y1="553.3" x2="477.5" y2="556.5" stroke="#ff2a2a"/>
<line x1="470.5" y1="548.5" x2="477.5" y2="550.1" stroke="#ff2a2a" stroke-dasharray="1 1"/>
<line x1="477.5" y1="556.5" x2="485.5" y2="559.3" stroke="#ff2a2a"/>
<line x1="477.5" y1="550.1" x2="485.5" y2="551.9" stroke="#ff2a2a" stroke-dasharray="1 1"/>
<line x1="485.5" y1="559.3" x2="492.5" y2="558.4" stroke="#ff2a2a"/>
<line x1="485.5" y1="551.9" x2="492.5" y2="553.2" stroke="#ff2a2a" stroke-dasharray="1 1"/>
<line x1="492.5" y1="558.4" x2="500.5" y2="562.3" stroke="#ff2a2a"/>
<line x1="492.5" y1="553.2" x2="500.5" y2="555.0" stroke="#ff2a2a" stroke-dasharray="1 1"/>
<line x1="500.5" y1="562.3" x2="507.5" y2="564.7" stroke="#ff2a2a"/>
<line x1="500.5" y1="555.0" x2="507.5" y2="557.0" stroke="#ff2a2a" stroke-dasharray="1 1"/>
<line x1="507.5" y1="564.7" x2="515.5" y2="569.4" stroke="#ff2a2a"/>
<line x1="507.5" y1="557.0" x2="515.5" y2="559.5" stroke="#ff2a2a" stroke-dasharray="1 1"/>
<line x1="515.5" y1="569.4" x2="522.5" y2="572.2" stroke="#ff2a2a"/>
<line x1="515.5" y1="559.5" x2="522.5" y2="562.0" stroke="#ff2a2a" stroke-dasharray="1 1"/>
<line x1="522.5" y1="572.2" x2="529.5" y2="583.9" stroke="#ff2a2a"/>
<line x1="522.5" y1="562.0" x2="529.5" y2="566.4" stroke="#ff2a2a" stroke-dasharray="1 1"/>
<line x1="529.5" y1="583.9" x2="537.5" y2="591.1" stroke="#ff2a2a"/>
<line x1="529.5" y1="566.4" x2="537.5" y2="571.3" stroke="#ff2a2a" stroke-dasharray="1 1"/>
<line x1="537.5" y1="591.1" x2="544.5" y2="601.4" stroke="#ff2a2a"/>
<line x1="537.5" y1="571.3" x2="544.5" y2="577.4" stroke="#ff2a2a" stroke-dasharray="1 1"/>
<line x1="544.5" y1="601.4" x2="552.5" y2="606.3" stroke="#ff2a2a"/>
<line x1="544.5" y1="577.4" x2="552.5" y2="583.2" stroke="#ff2a2a" stroke-dasharray="1 1"/>
<line x1="552.5" y1="606.3" x2="559.5" y2="610.1" stroke="#ff2a2a"/>
<line x1="552.5" y1="583.2" x2="559.5" y2="588.5" stroke="#ff2a2a" stroke-dasharray="1 1"/>
<line x1="559.5" y1="610.1" x2="567.5" y2="613.1" stroke="#ff2a2a"/>
<line x1="559.5" y1="588.5" x2="567.5" y2="593.4" stroke="#ff2a2a" stroke-dasharray="1 1"/>
<line x1="567.5" y1="613.1" x2="574.5" y2="613.4" stroke="#ff2a2a"/>
<line x1="567.5" y1="593.4" x2="574.5" y2="597.4" stroke="#ff2a2a" stroke-dasharray="1 1"/>
<line x1="574.5" y1="613.4" x2="582.5" y2="607.4" stroke="#ff2a2a"/>
<line x1="574.5" y1="597.4" x2="582.5" y2="599.4" stroke="#ff2a2a" stroke-dasharray="1 1"/>
<line x1="582.5" y1="607.4" x2="589.5" y2="601.0" stroke="#ff2a2a"/>
<line x1="582.5" y1="599.4" x2="589.5" y2="599.7" stroke="#ff2a2a" stroke-dasharray="1 1"/>
<line x1="589.5" y1="601.0" x2="596.5" y2="591.5" stroke="#1a86ff"/>
<line x1="589.5" y1="599.7" x2="596.5" y2="598.1" stroke="#1a86ff" stroke-dasharray="1 1"/>
<line x1="596.5" y1="591.5" x2="604.5" y2="584.0" stroke="#1a86ff"/>
<line x1="596.5" y1="598.1" x2="604.5" y2="595.3" stroke="#1a86ff" stroke-dasharray="1 1"/>
<line x1="604.5" y1="584.0" x2="611.5" y2="575.2" stroke="#1a86ff"/>
<line x1="604.5" y1="595.3" x2="611.5" y2="591.3" stroke="#1a86ff" stroke-dasharray="1 1"/>
<line x1="611.5" y1="575.2" x2="619.5" y2="574.5" stroke="#1a86ff"/>
<line x1="611.5" y1="591.3" x2="619.5" y2="587.9" stroke="#1a86ff" stroke-dasharray="1 1"/>
<line x1="619.5" y1="574.5" x2="626.5" y2="568.6" stroke="#1a86ff"/>
<line x1="619.5" y1="587.9" x2="626.5" y2="584.0" stroke="#1a86ff" stroke-dasharray="1 1"/>
<line x1="626.5" y1="568.6" x2="634.5" y2="564.2" stroke="#1a86ff"/>
<line x1="626.5" y1="584.0" x2="634.5" y2="580.1" stroke="#1a86ff" stroke-dasharray="1 1"/>
<line x1="634.5" y1="564.2" x2="641.5" y2="560.7" stroke="#1a86ff"/>
<line x1="634.5" y1="580.1" x2="641.5" y2="576.2" stroke="#1a86ff" stroke-dasharray="1 1"/>
<line x1="641.5" y1="560.7" x2="648.5" y2="562.8" stroke="#1a86ff"/>
<line x1="641.5" y1="576.2" x2="648.5" y2="573.5" stroke="#1a86ff" stroke-dasharray="1 1"/>
<line x1="648.5" y1="562.8" x2="656.5" y2="566.1" stroke="#1a86ff"/>
<line x1="648.5" y1="573.5" x2="656.5" y2="572.0" stroke="#1a86ff" stroke-dasharray="1 1"/>
<line x1="656.5" y1="566.1" x2="663.5" y2="564.6" stroke="#1a86ff"/>
<line x1="656.5" y1="572.0" x2="663.5" y2="570.5" stroke="#1a86ff" stroke-dasharray="1 1"/>
<line x1="663.5" y1="564.6" x2="671.5" y2="564.6" stroke="#1a86ff"/>
<line x1="663.5" y1="570.5" x2="671.5" y2="569.3" stroke="#1a86ff" stroke-dasharray="1 1"/>
<line x1="671.5" y1="564.6" x2="678.5" y2="574.7" stroke="#ff2a2a"/>
<line x1="671.5" y1="569.3" x2="678.5" y2="570.4" stroke="#ff2a2a" stroke-dasharray="1 1"/>
<line x1="678.5" y1="574.7" x2="686.5" y2="586.0" stroke="#ff2a2a"/>
<line x1="678.5" y1="570.4" x2="686.5" y2="573.5" stroke="#ff2a2a" stroke-dasharray="1 1"/>
<line x1="686.5" y1="586.0" x2="693.5" y2="593.8" stroke="#ff2a2a"/>
<line x1="686.5" y1="573.5" x2="693.5" y2="577.6" stroke="#ff2a2a" stroke-dasharray="1 1"/>
<line x1="693.5" y1="593.8" x2="701.5" y2="596.0" stroke="#ff2a2a"/>
<line x1="693.5" y1="577.6" x2="701.5" y2="581.3" stroke="#ff2a2a" stroke-dasharray="1 1"/>
<line x1="701.5" y1="596.0" x2="708.5" y2="599.8" stroke="#ff2a2a"/>
<line x1="701.5" y1="581.3" x2="708.5" y2="585.0" stroke="#ff2a2a" stroke-dasharray="1 1"/>
<line x1="708.5" y1="599.8" x2="715.5" y2="604.6" stroke="#ff2a2a"/>
<line x1="708.5" y1="585.0" x2="715.5" y2="588.9" stroke="#ff2a2a" stroke-dasharray="1 1"/>
<line x1="715.5" y1="604.6" x2="723.5" y2="604.0" stroke="#ff2a2a"/>
<line x1="715.5" y1="588.9" x2="723.5" y2="591.9" stroke="#ff2a2a" stroke-dasharray="1 1"/>
<line x1="723.5" y1="604.0" x2="730.5" y2="600.8" stroke="#ff2a2a"/>
<line x1="723.5" y1="591.9" x2="730.5" y2="593.7" stroke="#ff2a2a" stroke-dasharray="1 1"/>
<line x1="730.5" y1="600.8" x2="738.5" y2="594.4" stroke="#ff2a2a"/>
<line x1="730.5" y1="593.7" x2="738.5" y2="593.8" stroke="#ff2a2a" stroke-dasharray="1 1"/>
<line x1="738.5" y1="594.4" x2="745.5" y2="587.2" stroke="#1a86ff"/>
<line x1="738.5" y1="593.8" x2="745.5" y2="592.5" stroke="#1a86ff" stroke-dasharray="1 1"/>
<line x1="745.5" y1="587.2" x2="753.5" y2="577.7" stroke="#1a86ff"/>
<line x1="745.5" y1="592.5" x2="753.5" y2="589.6" stroke="#1a86ff" stroke-dasharray="1 1"/>
<line x1="753.5" y1="577.7" x2="760.5" y2="570.8" stroke="#1a86ff"/>
<line x1="753.5" y1="589.6" x2="760.5" y2="585.8" stroke="#1a86ff" stroke-dasharray="1 1"/>
<line x1="760.5" y1="570.8" x2="768.5" y2="563.0" stroke="#1a86ff"/>
<line x1="760.5" y1="585.8" x2="768.5" y2="581.3" stroke="#1a86ff" stroke-dasharray="1 1"/>
<line x1="768.5" y1="563.0" x2="775.5" y2="558.8" stroke="#1a86ff"/>
<line x1="768.5" y1="581.3" x2="775.5" y2="576.8" stroke="#1a86ff" stroke-dasharray="1 1"/>
<line x1="775.5" y1="558.8" x2="782.5" y2="552.7" stroke="#1a86ff"/>
<line x1="775.5" y1="576.8" x2="782.5" y2="571.9" stroke="#1a86ff" stroke-dasharray="1 1"/>
<line x1="782.5" y1="552.7" x2="790.5" y2="547.1" stroke="#1a86ff"/>
<line x1="782.5" y1="571.9" x2="790.5" y2="567.0" stroke="#1a86ff" stroke-dasharray="1 1"/>
<line x1="790.5" y1="547.1" x2="797.5" y2="545.1" stroke="#1a86ff"/>
<line x1="790.5" y1="567.0" x2="797.5" y2="562.6" stroke="#1a86ff" stroke-dasharray="1 1"/>
<line x1="797.5" y1="545.1" x2="805.5" y2="543.9" stroke="#1a86ff"/>
<line x1="797.5" y1="562.6" x2="805.5" y2="558.9" stroke="#1a86ff" stroke-dasharray="1 1"/>
<line x1="805.5" y1="543.9" x2="812.5" y2="545.4" stroke="#1a86ff"/>
<line x1="805.5" y1="558.9" x2="812.5" y2="556.2" stroke="#1a86ff" stroke-dasharray="1 1"/>
<line x1="812.5" y1="545.4" x2="820.5" y2="546.9" stroke="#1a86ff"/>
<line x1="812.5" y1="556.2" x2="820.5" y2="554.3" stroke="#1a86ff" stroke-dasharray="1 1"/>
<line x1="820.5" y1="546.9" x2="827.5" y2="545.1" stroke="#1a86ff"/>
<line x1="820.5" y1="554.3" x2="827.5" y2="552.5" stroke="#1a86ff" stroke-dasharray="1 1"/>
<line x1="827.5" y1="545.1" x2="834.5" y2="544.3" stroke="#1a86ff"/>
<line x1="827.5" y1="552.5" x2="834.5" y2="550.8" stroke="#1a86ff" stroke-dasharray="1 1"/>
<line x1="834.5" y1="544.3" x2="842.5" y2="543.6" stroke="#1a86ff"/>
<line x1="834.5" y1="550.8" x2="842.5" y2="549.4" stroke="#1a86ff" stroke-dasharray="1 1"/>
<line x1="842.5" y1="543.6" x2="849.5" y2="544.9" stroke="#1a86ff"/>
<line x1="842.5" y1="549.4" x2="849.5" y2="548.5" stroke="#1a86ff" stroke-dasharray="1 1"/>
<line x1="849.5" y1="544.9" x2="857.5" y2="548.9" stroke="#ff2a2a"/>
<line x1="849.5" y1="548.5" x2="857.5" y2="548.6" stroke="#ff2a2a" stroke-dasharray="1 1"/>
<line x1="857.5" y1="548.9" x2="864.5" y2="547.1" stroke="#1a86ff"/>
<line x1="857.5" y1="548.6" x2="864.5" y2="548.3" stroke="#1a86ff" stroke-dasharray="1 1"/>
<line x1="864.5" y1="547.1" x2="872.5" y2="544.3" stroke="#1a86ff"/>
<line x1="864.5" y1="548.3" x2="872.5" y2="547.5" stroke="#1a86ff" stroke-dasharray="1 1"/>
<line x1="872.5" y1="544.3" x2="879.5" y2="538.7" stroke="#1a86ff"/>
<line x1="872.5" y1="547.5" x2="879.5" y2="545.7" stroke="#1a86ff" stroke-dasharray="1 1"/>
<line x1="879.5" y1="538.7" x2="887.5" y2="534.1" stroke="#1a86ff"/>
<line x1="879.5" y1="545.7" x2="887.5" y2="543.4" stroke="#1a86ff" stroke-dasharray="1 1"/>
<line x1="887.5" y1="534.1" x2="894.5" y2="532.1" stroke="#1a86ff"/>
<line x1="887.5" y1="543.4" x2="894.5" y2="541.1" stroke="#1a86ff" stroke-dasharray="1 1"/>
<line x1="894.5" y1="532.1" x2="901.5" y2="530.0" stroke="#1a86ff"/>
<line x1="894.5" y1="541.1" x2="901.5" y2="538.9" stroke="#1a86ff" stroke-dasharray="1 1"/>
<line x1="901.5" y1="530.0" x2="909.5" y2="528.9" stroke="#1a86ff"/>
<line x1="901.5" y1="538.9" x2="909.5" y2="536.9" stroke="#1a86ff" stroke-dasharray="1 1"/>
<line x1="909.5" y1="528.9" x2="916.5" y2="528.2" stroke="#1a86ff"/>
<line x1="909.5" y1="536.9" x2="916.5" y2="535.2" stroke="#1a86ff" stroke-dasharray="1 1"/>
<line x1="916.5" y1="528.2" x2="924.5" y2="529.4" stroke="#1a86ff"/>
<line x1="916.5" y1="535.2" x2="924.5" y2="534.0" stroke="#1a86ff" stroke-dasharray="1 1"/>
<line x1="924.5" y1="529.4" x2="931.5" y2="530.2" stroke="#1a86ff"/>
<line x1="924.5" y1="534.0" x2="931.5" y2="533.2" stroke="#1a86ff" stroke-dasharray="1 1"/>
<line x1="931.5" y1="530.2" x2="939.5" y2="534.8" stroke="#ff2a2a"/>
<line x1="931.5" y1="533.2" x2="939.5" y2="533.6" stroke="#ff2a2a" stroke-dasharray="1 1"/>
<line x1="939.5" y1="534.8" x2="946.5" y2="538.6" stroke="#ff2a2a"/>
<line x1="939.5" y1="533.6" x2="946.5" y2="534.6" stroke="#ff2a2a" stroke-dasharray="1 1"/>
<line x1="946.5" y1="538.6" x2="954.5" y2="540.5" stroke="#ff2a2a"/>
<line x1="946.5" y1="534.6" x2="954.5" y2="535.8" stroke="#ff2a2a" stroke-dasharray="1 1"/>
<line x1="954.5" y1="540.5" x2="961.5" y2="542.1" stroke="#ff2a2a"/>
<line x1="954.5" y1="535.8" x2="961.5" y2="537.0" stroke="#ff2a2a" stroke-dasharray="1 1"/>
<line x1="961.5" y1="542.1" x2="968.5" y2="544.0" stroke="#ff2a2a"/>
<line x1="961.5" y1="537.0" x2="968.5" y2="538.4" stroke="#ff2a2a" stroke-dasharray="1 1"/>
<line x1="968.5" y1="544.0" x2="976.5" y2="546.7" stroke="#ff2a2a"/>
<line x1="968.5" y1="538.4" x2="976.5" y2="540.1" stroke="#ff2a2a" stroke-dasharray="1 1"/>
<line x1="976.5" y1="546.7" x2="983.5" y2="549.3" stroke="#ff2a2a"/>
<line x1="976.5" y1="540.1" x2="983.5" y2="541.9" stroke="#ff2a2a" stroke-dasharray="1 1"/>
<line x1="983.5" y1="549.3" x2="991.5" y2="551.2" stroke="#ff2a2a"/>
<line x1="983.5" y1="541.9" x2="991.5" y2="543.8" stroke="#ff2a2a" stroke-dasharray="1 1"/>
<line x1="991.5" y1="551.2" x2="998.5" y2="555.3" stroke="#ff2a2a"/>
<line x1="991.5" y1="543.8" x2="998.5" y2="546.1" stroke="#ff2a2a" stroke-dasharray="1 1"/>
<line x1="998.5" y1="555.3" x2="1006.5" y2="549.8" stroke="#ff2a2a"/>
<line x1="998.5" y1="546.1" x2="1006.5" y2="546.8" stroke="#ff2a2a" stroke-dasharray="1 1"/>
<line x1="1006.5" y1="549.8" x2="1013.5" y2="545.6" stroke="#1a86ff"/>
<line x1="1006.5" y1="546.8" x2="1013.5" y2="546.6" stroke="#1a86ff" stroke-dasharray="1 1"/>
<line x1="1013.5" y1="545.6" x2="1020.5" y2="539.8" stroke="#1a86ff"/>
<line x1="1013.5" y1="546.6" x2="1020.5" y2="545.2" stroke="#1a86ff" stroke-dasharray="1 1"/>
<line x1="1020.5" y1="539.8" x2="1028.5" y2="535.3" stroke="#1a86ff"/>
<line x1="1020.5" y1="545.2" x2="1028.5" y2="543.2" stroke="#1a86ff" stroke-dasharray="1 1"/>
<line x1="1028.5" y1="535.3" x2="1035.5" y2="526.8" stroke="#1a86ff"/>
<line x1="1028.5" y1="543.2" x2="1035.5" y2="539.9" stroke="#1a86ff" stroke-dasharray="1 1"/>
<line x1="1035.5" y1="526.8" x2="1043.5" y2="519.7" stroke="#1a86ff"/>
<line x1="1035.5" y1="539.9" x2="1043.5" y2="535.9" stroke="#1a86ff" stroke-dasharray="1 1"/>
<line x1="1043.5" y1="519.7" x2="1050.5" y2="513.8" stroke="#1a86ff"/>
<line x1="1043.5" y1="535.9" x2="1050.5" y2="531.5" stroke="#1a86ff" stroke-dasharray="1 1"/>
<line x1="1050.5" y1="513.8" x2="1058.5" y2="511.4" stroke="#1a86ff"/>
<line x1="1050.5" y1="531.5" x2="1058.5" y2="527.5" stroke="#1a86ff" stroke-dasharray="1 1"/>
<line x1="1058.5" y1="511.4" x2="1065.5" y2="508.3" stroke="#1a86ff"/>
<line x1="1058.5" y1="527.5" x2="1065.5" y2="523.6" stroke="#1a86ff" stroke-dasharray="1 1"/>
<line x1="1065.5" y1="508.3" x2="1073.5" y2="507.1" stroke="#1a86ff"/>
<line x1="1065.5" y1="523.6" x2="1073.5" y2="520.3" stroke="#1a86ff" stroke-dasharray="1 1"/>
<line x1="1073.5" y1="507.1" x2="1080.5" y2="507.6" stroke="#1a86ff"/>
<line x1="1073.5" y1="520.3" x2="1080.5" y2="517.8" stroke="#1a86ff" stroke-dasharray="1 1"/>
<line x1="1080.5" y1="507.6" x2="1087.5" y2="506.2" stroke="#1a86ff"/>
<line x1="1080.5" y1="517.8" x2="1087.5" y2="515.5" stroke="#1a86ff" stroke-dasharray="1 1"/>
<line x1="1087.5" y1="506.2" x2="1095.5" y2="505.9" stroke="#1a86ff"/>
<line x1="1087.5" y1="515.5" x2="1095.5" y2="513.5" stroke="#1a86ff" stroke-dasharray="1 1"/>
<line x1="1095.5" y1="505.9" x2="1102.5" y2="504.7" stroke="#1a86ff"/>
<line x1="1095.5" y1="513.5" x2="1102.5" y2="511.8" stroke="#1a86ff" stroke-dasharray="1 1"/>
<line x1="1102.5" y1="504.7" x2="1110.5" y2="501.0" stroke="#1a86ff"/>
<line x1="1102.5" y1="511.8" x2="1110.5" y2="509.6" stroke="#1a86ff" stroke-dasharray="1 1"/>
<line x1="1110.5" y1="501.0" x2="1117.5" y2="496.8" stroke="#1a86ff"/>
<line x1="1110.5" y1="509.6" x2="1117.5" y2="507.1" stroke="#1a86ff" stroke-dasharray="1 1"/>
<line x1="1117.5" y1="496.8" x2="1125.5" y2="492.6" stroke="#1a86ff"/>
<line x1="1117.5" y1="507.1" x2="1125.5" y2="504.2" stroke="#1a86ff" stroke-dasharray="1 1"/>
<line x1="1125.5" y1="492.6" x2="1132.5" y2="491.1" stroke="#1a86ff"/>
<line x1="1125.5" y1="504.2" x2="1132.5" y2="501.6" stroke="#1a86ff" stroke-dasharray="1 1"/>
<line x1="1132.5" y1="491.1" x2="1140.5" y2="491.0" stroke="#1a86ff"/>
<line x1="1132.5" y1="501.6" x2="1140.5" y2="499.4" stroke="#1a86ff" stroke-dasharray="1 1"/>
<line x1="1140.5" y1="491.0" x2="1147.5" y2="494.5" stroke="#1a86ff"/>
<line x1="1140.5" y1="499.4" x2="1147.5" y2="498.4" stroke="#1a86ff" stroke-dasharray="1 1"/>
<line x1="1147.5" y1="494.5" x2="1154.5" y2="497.6" stroke="#1a86ff"/>
<line x1="1147.5" y1="498.4" x2="1154.5" y2="498.3" stroke="#1a86ff" stroke-dasharray="1 1"/>
<line x1="1154.5" y1="497.6" x2="1162.5" y2="501.0" stroke="#ff2a2a"/>
<line x1="1154.5" y1="498.3" x2="1162.5" y2="498.8" stroke="#ff2a2a" stroke-dasharray="1 1"/>
<line x1="1162.5" y1="501.0" x2="1169.5" y2="506.1" stroke="#ff2a2a"/>
<line x1="1162.5" y1="498.8" x2="1169.5" y2="500.3" stroke="#ff2a2a" stroke-dasharray="1 1"/>
<line x1="1169.5" y1="506.1" x2="1177.5" y2="509.9" stroke="#ff2a2a"/>
<line x1="1169.5" y1="500.3" x2="1177.5" y2="502.2" stroke="#ff2a2a" stroke-dasharray="1 1"/>
<line x1="1177.5" y1="509.9" x2="1184.5" y2="510.2" stroke="#ff2a2a"/>
<line x1="1177.5" y1="502.2" x2="1184.5" y2="503.8" stroke="#ff2a2a" stroke-dasharray="1 1"/>
<line x1="1184.5" y1="510.2" x2="1192.5" y2="510.0" stroke="#ff2a2a"/>
<line x1="1184.5" y1="503.8" x2="1192.5" y2="505.1" stroke="#ff2a2a" stroke-dasharray="1 1"/>
<line x1="1192.5" y1="510.0" x2="1199.5" y2="511.6" stroke="#ff2a2a"/>
<line x1="1192.5" y1="505.1" x2="1199.5" y2="506.4" stroke="#ff2a2a" stroke-dasharray="1 1"/>
<line x1="1199.5" y1="511.6" x2="1206.5" y2="514.3" stroke="#ff2a2a"/>
<line x1="1199.5" y1="506.4" x2="1206.5" y2="508.0" stroke="#ff2a2a" stroke-dasharray="1 1"/>
<line x1="1206.5" y1="514.3" x2="1214.5" y2="514.6" stroke="#ff2a2a"/>
<line x1="1206.5" y1="508.0" x2="1214.5" y2="509.3" stroke="#ff2a2a" stroke-dasharray="1 1"/>
<line x1="1214.5" y1="514.6" x2="1221.5" y2="514.3" stroke="#ff2a2a"/>
<line x1="1214.5" y1="509.3" x2="1221.5" y2="510.3" stroke="#ff2a2a" stroke-dasharray="1 1"/>
<line x1="1221.5" y1="514.3" x2="1229.5" y2="514.2" stroke="#ff2a2a"/>
<line x1="1221.5" y1="510.3" x2="1229.5" y2="511.1" stroke="#ff2a2a" stroke-dasharray="1 1"/>
<line x1="1229.5" y1="514.2" x2="1236.5" y2="513.4" stroke="#ff2a2a"/>
<line x1="1229.5" y1="511.1" x2="1236.5" y2="511.5" stroke="#ff2a2a" stroke-dasharray="1 1"/>
<line x1="1236.5" y1="513.4" x2="1244.5" y2="513.0" stroke="#ff2a2a"/>
<line x1="1236.5" y1="511.5" x2="1244.5" y2="511.8" stroke="#ff2a2a" stroke-dasharray="1 1"/>
<line x1="1244.5" y1="513.0" x2="1251.5" y2="513.7" stroke="#ff2a2a"/>
<line x1="1244.5" y1="511.8" x2="1251.5" y2="512.2" stroke="#ff2a2a" stroke-dasharray="1 1"/>
<line x1="1251.5" y1="513.7" x2="1259.5" y2="514.8" stroke="#ff2a2a"/>
<line x1="1251.5" y1="512.2" x2="1259.5" y2="512.7" stroke="#ff2a2a" stroke-dasharray="1 1"/>
<line x1="1259.5" y1="514.8" x2="1266.5" y2="513.9" stroke="#ff2a2a"/>
<line x1="1259.5" y1="512.7" x2="1266.5" y2="512.9" stroke="#ff2a2a" stroke-dasharray="1 1"/>
<line x1="1266.5" y1="513.9" x2="1273.5" y2="514.2" stroke="#ff2a2a"/>
<line x1="1266.5" y1="512.9" x2="1273.5" y2="513.2" stroke="#ff2a2a" stroke-dasharray="1 1"/>
<line x1="1273.5" y1="514.2" x2="1281.5" y2="512.8" stroke="#1a86ff"/>
<line x1="1273.5" y1="513.2" x2="1281.5" y2="513.1" stroke="#1a86ff" stroke-dasharray="1 1"/>
<line x1="1281.5" y1="512.8" x2="1288.5" y2="509.8" stroke="#1a86ff"/>
<line x1="1281.5" y1="513.1" x2="1288.5" y2="512.5" stroke="#1a86ff" stroke-dasharray="1 1"/>
<line x1="1288.5" y1="509.8" x2="1296.5" y2="510.3" stroke="#1a86ff"/>
<line x1="1288.5" y1="512.5" x2="1296.5" y2="512.0" stroke="#1a86ff" stroke-dasharray="1 1"/>
<line x1="1296.5" y1="510.3" x2="1303.5" y2="513.1" stroke="#ff2a2a"/>
<line x1="1296.5" y1="512.0" x2="1303.5" y2="512.3" stroke="#ff2a2a" stroke-dasharray="1 1"/>
<line x1="1303.5" y1="513.1" x2="1311.5" y2="514.9" stroke="#ff2a2a"/>
<line x1="1303.5" y1="512.3" x2="1311.5" y2="512.8" stroke="#ff2a2a" stroke-dasharray="1 1"/>
<line x1="1311.5" y1="514.9" x2="1318.5" y2="515.3" stroke="#ff2a2a"/>
<line x1="1311.5" y1="512.8" x2="1318.5" y2="513.3" stroke="#ff2a2a" stroke-dasharray="1 1"/>
<line x1="1318.5" y1="515.3" x2="1325.5" y2="517.4" stroke="#ff2a2a"/>
<line x1="1318.5" y1="513.3" x2="1325.5" y2="514.1" stroke="#ff2a2a" stroke-dasharray="1 1"/>
<line x1="1325.5" y1="517.4" x2="1333.5" y2="515.7" stroke="#ff2a2a"/>
<line x1="1325.5" y1="514.1" x2="1333.5" y2="514.4" stroke="#ff2a2a" stroke-dasharray="1 1"/>
<line x1="1333.5" y1="515.7" x2="1340.5" y2="514.0" stroke="#1a86ff"/>
<line x1="1333.5" y1="514.4" x2="1340.5" y2="514.3" stroke="#1a86ff" stroke-dasharray="1 1"/>
<line x1="1340.5" y1="514.0" x2="1348.5" y2="513.1" stroke="#1a86ff"/>
<line x1="1340.5" y1="514.3" x2="1348.5" y2="514.1" stroke="#1a86ff" stroke-dasharray="1 1"/>
<line x1="1348.5" y1="513.1" x2="1355.5" y2="509.4" stroke="#1a86ff"/>
<line x1="1348.5" y1="514.1" x2="1355.5" y2="513.1" stroke="#1a86ff" stroke-dasharray="1 1"/>
<line x1="1355.5" y1="509.4" x2="1363.5" y2="506.3" stroke="#1a86ff"/>
<line x1="1355.5" y1="513.1" x2="1363.5" y2="511.8" stroke="#1a86ff" stroke-dasharray="1 1"/>
<line x1="1363.5" y1="506.3" x2="1370.5" y2="500.0" stroke="#1a86ff"/>
<line x1="1363.5" y1="511.8" x2="1370.5" y2="509.4" stroke="#1a86ff" stroke-dasharray="1 1"/>
<line x1="1370.5" y1="500.0" x2="1378.5" y2="495.0" stroke="#1a86ff"/>
<line x1="1370.5" y1="509.4" x2="1378.5" y2="506.5" stroke="#1a86ff" stroke-dasharray="1 1"/>
<line x1="1378.5" y1="495.0" x2="1385.5" y2="490.8" stroke="#1a86ff"/>
<line x1="1378.5" y1="506.5" x2="1385.5" y2="503.4" stroke="#1a86ff" stroke-dasharray="1 1"/>
<line x1="1385.5" y1="490.8" x2="1392.5" y2="489.4" stroke="#1a86ff"/>
<line x1="1385.5" y1="503.4" x2="1392.5" y2="500.6" stroke="#1a86ff" stroke-dasharray="1 1"/>
<line x1="1392.5" y1="489.4" x2="1400.5" y2="490.1" stroke="#1a86ff"/>
<line x1="1392.5" y1="500.6" x2="1400.5" y2="498.5" stroke="#1a86ff" stroke-dasharray="1 1"/>
<line x1="1400.5" y1="490.1" x2="1407.5" y2="489.6" stroke="#1a86ff"/>
<line x1="1400.5" y1="498.5" x2="1407.5" y2="496.7" stroke="#1a86ff" stroke-dasharray="1 1"/>
<line x1="1407.5" y1="489.6" x2="1415.5" y2="483.8" stroke="#1a86ff"/>
<line x1="1407.5" y1="496.7" x2="1415.5" y2="494.1" stroke="#1a86ff" stroke-dasharray="1 1"/>
<line x1="1415.5" y1="483.8" x2="1422.5" y2="478.7" stroke="#1a86ff"/>
<line x1="1415.5" y1="494.1" x2="1422.5" y2="491.0" stroke="#1a86ff" stroke-dasharray="1 1"/>
<line x1="1422.5" y1="478.7" x2="1430.5" y2="473.1" stroke="#1a86ff"/>
<line x1="1422.5" y1="491.0" x2="1430.5" y2="487.4" stroke="#1a86ff" stroke-dasharray="1 1"/>
<line x1="1430.5" y1="473.1" x2="1437.5" y2="469.2" stroke="#1a86ff"/>
<line x1="1430.5" y1="487.4" x2="1437.5" y2="483.8" stroke="#1a86ff" stroke-dasharray="1 1"/>
<line x1="1437.5" y1="469.2" x2="1445.5" y2="467.3" stroke="#1a86ff"/>
<line x1="1437.5" y1="483.8" x2="1445.5" y2="480.5" stroke="#1a86ff" stroke-dasharray="1 1"/>
<line x1="1445.5" y1="467.3" x2="1452.5" y2="461.5" stroke="#1a86ff"/>
<line x1="1445.5" y1="480.5" x2="1452.5" y2="476.7" stroke="#1a86ff" stroke-dasharray="1 1"/>
<line x1="1452.5" y1="461.5" x2="1459.5" y2="453.3" stroke="#1a86ff"/>
<line x1="1452.5" y1="476.7" x2="1459.5" y2="472.0" stroke="#1a86ff" stroke-dasharray="1 1"/>
<line x1="1459.5" y1="453.3" x2="1467.5" y2="445.6" stroke="#1a86ff"/>
<line x1="1459.5" y1="472.0" x2="1467.5" y2="466.7" stroke="#1a86ff" stroke-dasharray="1 1"/>
</g>
<g shape-rendering="crispEdges" fill="#303030">
<rect x="1483" y="435" width="109" height="1"/>
<rect x="1483" y="435" width="1" height="193"/>
<rect x="1483" y="449" width="7" height="1"/>
<rect x="1483" y="460" width="4" height="1"/>
<rect x="1483" y="471" width="4" height="1"/>
<rect x="1483" y="482" width="4" height="1"/>
<rect x="1483" y="493" width="4" height="1"/>
<rect x="1483" y="508" width="7" height="1"/>
<rect x="1483" y="519" width="4" height="1"/>
<rect x="1483" y="530" width="4" height="1"/>
<rect x="1483" y="541" width="4" height="1"/>
<rect x="1483" y="552" width="4" height="1"/>
<rect x="1483" y="567" width="7" height="1"/>
<rect x="1483" y="578" width="4" height="1"/>
<rect x="1483" y="589" width="4" height="1"/>
<rect x="1483" y="600" width="4" height="1"/>
<rect x="1483" y="611" width="4" height="1"/>
<rect x="1483" y="626" width="7" height="1"/>
</g>
<svg x="1483" y="436" width="109" height="192" overflow="hidden">
<text x="11" y="76.7" font-size="12" fill="#1a1a2a">500</text>
<text x="11" y="195.1" font-size="12" fill="#1a1a2a">-500</text>
</svg>
<rect x="1493.5" y="436.5" width="53" height="18" fill="#3a9eff" stroke="#222" stroke-width="1" shape-rendering="crispEdges"/>
<text x="1495.5" y="450.5" font-size="13" fill="#fff" textLength="48" lengthAdjust="spacingAndGlyphs">1.032,96</text>
<path d="M1485.5 446.5 H1492 M1485.5 446.5 L1488.5 443.5 M1485.5 446.5 L1488.5 449.5" stroke="#333" stroke-width="1" fill="none"/>
<rect x="1493.5" y="457.5" width="43" height="18" fill="#3a9eff" stroke="#222" stroke-width="1" shape-rendering="crispEdges"/>
<text x="1495.5" y="471.5" font-size="13" fill="#fff" textLength="38" lengthAdjust="spacingAndGlyphs">854,63</text>
<path d="M1485.5 467.5 H1492 M1485.5 467.5 L1488.5 464.5 M1485.5 467.5 L1488.5 470.5" stroke="#333" stroke-width="1" fill="none"/>
<rect x="1493" y="558" width="13" height="18" fill="#3a3a3a" shape-rendering="crispEdges"/>
<text x="1496" y="571.5" font-size="13" fill="#fff">0</text>
<path d="M1485.5 567.5 H1492 M1485.5 567.5 L1488.5 564.5 M1485.5 567.5 L1488.5 570.5" stroke="#333" stroke-width="1" fill="none"/>
<g shape-rendering="crispEdges"><rect x="1552" y="3" width="11" height="1" fill="#fff"/><rect x="1552" y="12" width="11" height="1" fill="#3a3a3a"/><rect x="1564" y="3" width="11" height="1" fill="#fff"/><rect x="1564" y="12" width="11" height="1" fill="#3a3a3a"/><rect x="1577" y="3" width="11" height="1" fill="#fff"/><rect x="1577" y="12" width="11" height="1" fill="#3a3a3a"/><rect x="1554" y="9" width="5" height="2" fill="#000"/><rect x="1565" y="4" width="8" height="2" fill="#000"/><rect x="1565" y="10" width="8" height="1" fill="#000"/><rect x="1565" y="4" width="1" height="7" fill="#000"/><rect x="1572" y="4" width="1" height="7" fill="#000"/><path d="M1579 5 L1586 9.5 M1586 5 L1579 9.5" stroke="#000" stroke-width="1.25" shape-rendering="auto"/></g>
<g shape-rendering="crispEdges"><rect x="1552" y="424" width="11" height="8" fill="#d9d7d9"/><rect x="1552" y="432" width="11" height="1" fill="#3a3a3a"/><rect x="1564" y="424" width="11" height="8" fill="#d9d7d9"/><rect x="1564" y="432" width="11" height="1" fill="#3a3a3a"/><rect x="1577" y="424" width="11" height="8" fill="#d9d7d9"/><rect x="1577" y="432" width="11" height="1" fill="#3a3a3a"/><rect x="1554" y="429" width="5" height="2" fill="#000"/><rect x="1565" y="424" width="8" height="2" fill="#000"/><rect x="1565" y="430" width="8" height="1" fill="#000"/><rect x="1565" y="424" width="1" height="7" fill="#000"/><rect x="1572" y="424" width="1" height="7" fill="#000"/><path d="M1579 425 L1586 429.5 M1586 425 L1579 429.5" stroke="#000" stroke-width="1.25" shape-rendering="auto"/></g>
<rect x="0" y="628" width="1592" height="1" fill="#303030" shape-rendering="crispEdges"/>
<g shape-rendering="crispEdges" fill="#303030">
<rect x="84" y="629" width="1" height="8"/>
<rect x="183" y="629" width="1" height="8"/>
<rect x="282" y="629" width="1" height="8"/>
<rect x="377" y="629" width="1" height="8"/>
<rect x="473" y="629" width="1" height="8"/>
<rect x="572" y="629" width="1" height="8"/>
<rect x="671" y="629" width="1" height="8"/>
<rect x="768" y="629" width="1" height="8"/>
<rect x="864" y="629" width="1" height="8"/>
<rect x="954" y="629" width="1" height="8"/>
<rect x="1053" y="629" width="1" height="8"/>
<rect x="1148" y="629" width="1" height="8"/>
<rect x="1245" y="629" width="1" height="8"/>
<rect x="1343" y="629" width="1" height="8"/>
<rect x="1452" y="629" width="1" height="8"/>
<rect x="284" y="619" width="1" height="9"/>
<rect x="671" y="619" width="1" height="9"/>
<rect x="1063" y="619" width="1" height="9"/>
<rect x="1452" y="619" width="1" height="9"/>
</g>
<svg x="0" y="600" width="1478" height="48" overflow="hidden">
<text x="86" y="45.5" font-size="12" fill="#1a1a2a">01-Jul-14</text>
<text x="185" y="45.5" font-size="12" fill="#1a1a2a">01-Oct-14</text>
<text x="284" y="45.5" font-size="12" fill="#1a1a2a">01-Ene-15</text>
<text x="379" y="45.5" font-size="12" fill="#1a1a2a">01-Abr-15</text>
<text x="475" y="45.5" font-size="12" fill="#1a1a2a">01-Jul-15</text>
<text x="574" y="45.5" font-size="12" fill="#1a1a2a">01-Oct-15</text>
<text x="673" y="45.5" font-size="12" fill="#1a1a2a">01-Ene-16</text>
<text x="770" y="45.5" font-size="12" fill="#1a1a2a">01-Abr-16</text>
<text x="866" y="45.5" font-size="12" fill="#1a1a2a">01-Jul-16</text>
<text x="956" y="45.5" font-size="12" fill="#1a1a2a">01-Oct-16</text>
<text x="1055" y="45.5" font-size="12" fill="#1a1a2a">01-Ene-17</text>
<text x="1150" y="45.5" font-size="12" fill="#1a1a2a">01-Abr-17</text>
<text x="1247" y="45.5" font-size="12" fill="#1a1a2a">01-Jul-17</text>
<text x="1345" y="45.5" font-size="12" fill="#1a1a2a">01-Oct-17</text>
<text x="1454" y="45.5" font-size="12" fill="#1a1a2a">05-Ene-18</text>
<text x="286" y="25" font-size="12" fill="#1a1a2a">2015</text>
<text x="673" y="25" font-size="12" fill="#1a1a2a">2016</text>
<text x="1065" y="25" font-size="12" fill="#1a1a2a">2017</text>
<text x="1454" y="25" font-size="12" fill="#1a1a2a">2018</text>
</svg>
</svg></body></html>
